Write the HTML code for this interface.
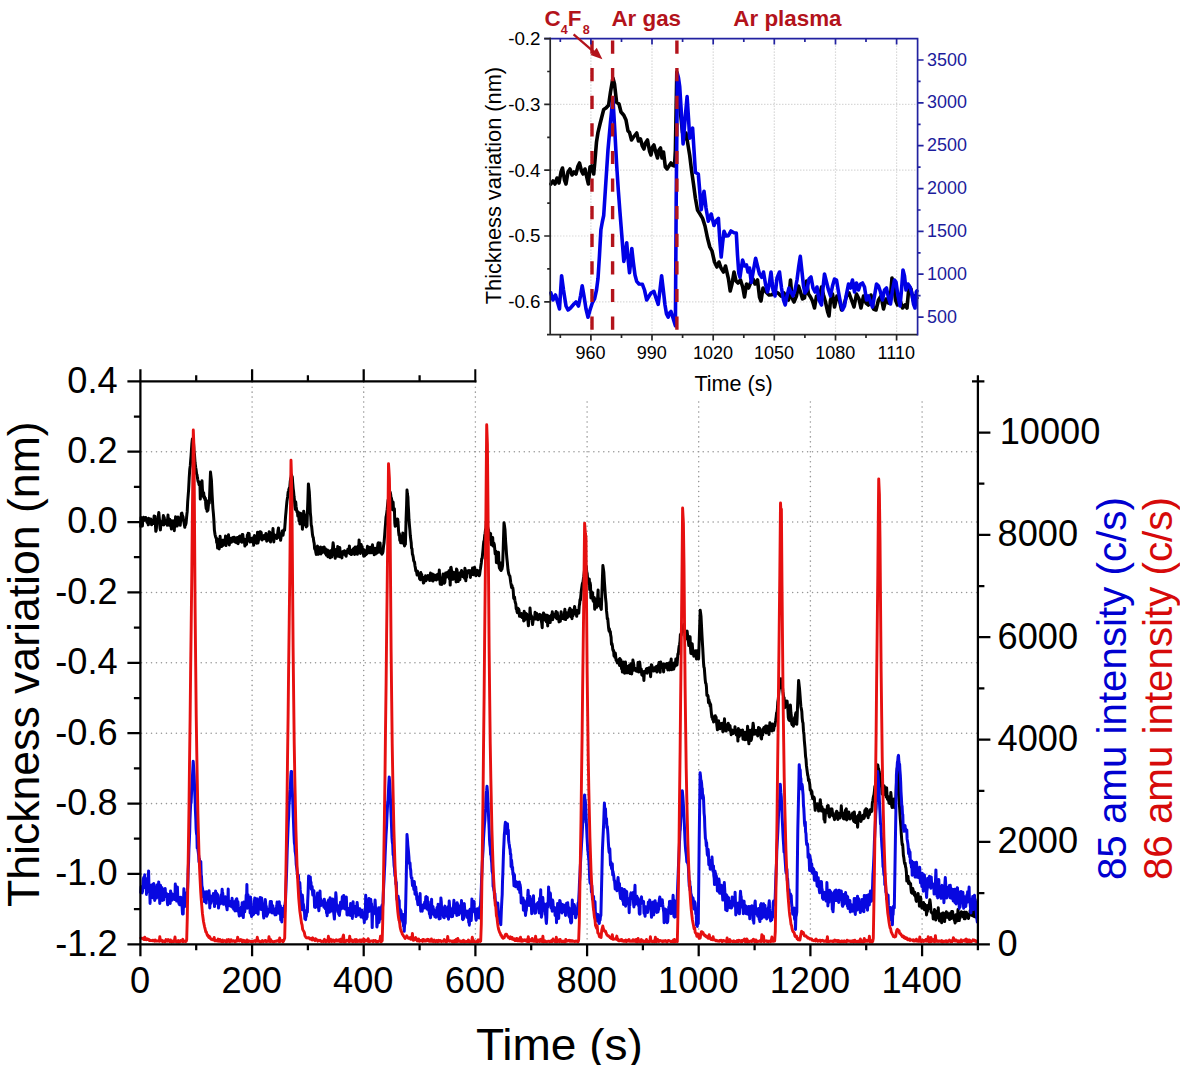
<!DOCTYPE html>
<html lang="en"><head><meta charset="utf-8"><title>Thickness variation and mass-spectrometer intensity vs time</title>
<style>
html,body{margin:0;padding:0;background:#ffffff;}
body{width:1180px;height:1065px;overflow:hidden;position:relative;font-family:"Liberation Sans", sans-serif;}
svg{display:block;}
</style></head>
<body>
<svg width="1180" height="1065" viewBox="0 0 1180 1065" style="position:absolute;left:0;top:0;font-family:'Liberation Sans', sans-serif">
<rect x="0" y="0" width="1180" height="1065" fill="#ffffff"/>
<path d="M252.1 382.2V943.3M363.7 382.2V943.3M475.4 382.2V943.3M587.1 382.2V943.3M698.7 382.2V943.3M810.4 382.2V943.3M922.1 382.2V943.3M141.6 451.7H976.9M141.6 522.0H976.9M141.6 592.4H976.9M141.6 662.8H976.9M141.6 733.2H976.9M141.6 803.6H976.9M141.6 873.9H976.9" stroke="#969696" stroke-width="1.55" stroke-dasharray="0.01 4.96" stroke-linecap="round" fill="none"/>
<path d="M140.7 526.5L141.1 517.6L141.5 522.8L142.0 523.1L142.4 526.0L142.8 519.2L143.2 520.0L143.6 517.2L144.1 520.6L144.5 518.2L144.9 518.4L145.3 519.2L145.7 517.5L146.2 518.6L146.6 520.9L147.0 522.4L147.4 522.6L147.8 522.7L148.3 524.8L148.7 518.3L149.1 523.0L149.5 521.1L149.9 521.5L150.4 523.0L150.8 519.0L151.2 520.0L151.6 524.8L152.0 520.8L152.5 521.3L152.9 521.5L153.3 520.2L153.7 523.4L154.1 516.0L154.6 520.6L155.0 516.2L155.4 524.2L155.8 531.3L156.2 530.4L156.7 524.8L157.1 519.3L157.5 519.7L157.9 521.0L158.3 516.2L158.8 512.5L159.2 517.2L159.6 521.0L160.0 528.0L160.4 529.9L160.9 524.1L161.3 525.4L161.7 521.5L162.1 523.7L162.5 521.0L163.0 519.5L163.4 515.4L163.8 524.9L164.2 517.2L164.6 521.7L165.1 523.6L165.5 521.9L165.9 520.2L166.3 522.6L166.7 522.1L167.2 525.2L167.6 519.9L168.0 515.0L168.4 523.4L168.8 518.6L169.3 525.3L169.7 519.3L170.1 521.7L170.5 523.1L170.9 525.2L171.4 529.0L171.8 520.8L172.2 524.2L172.6 521.3L173.0 522.2L173.5 521.3L173.9 520.8L174.3 530.7L174.7 522.8L175.1 524.2L175.6 516.7L176.0 520.5L176.4 523.0L176.8 526.0L177.2 526.0L177.7 522.9L178.1 516.9L178.5 522.3L178.9 520.5L179.3 520.8L179.8 522.6L180.2 525.3L180.6 521.2L181.0 518.9L181.4 513.3L181.9 513.1L182.3 515.2L182.7 516.1L183.1 517.1L183.5 520.1L184.0 522.7L184.4 525.0L184.8 527.3L185.2 523.6L185.6 525.0L186.1 522.9L186.5 518.4L186.9 514.0L187.2 511.9L187.7 501.5L188.2 495.2L188.6 489.8L189.2 478.0L189.8 468.9L190.3 465.7L190.7 460.0L191.1 455.3L191.5 449.0L191.9 443.3L192.4 439.0L192.8 440.8L193.4 441.2L194.0 451.3L194.5 454.8L195.0 462.3L195.7 467.5L196.1 469.7L196.6 474.0L197.0 474.7L197.4 477.6L197.8 479.8L198.2 481.6L198.7 482.6L199.1 484.6L199.5 483.5L199.9 482.3L200.3 499.1L200.8 489.3L201.2 491.2L201.6 484.8L202.0 480.7L202.4 488.8L202.9 493.6L203.3 496.5L203.7 492.8L204.1 498.0L204.5 496.4L205.0 499.8L205.4 498.3L205.8 505.2L206.2 508.7L206.6 502.5L207.1 511.3L207.5 501.1L207.9 510.4L208.3 506.4L208.7 502.8L209.3 503.1L210.0 485.0L210.5 472.1L210.8 474.9L211.4 479.9L212.1 494.5L212.4 499.9L212.9 508.3L213.4 513.7L213.8 518.8L214.4 530.1L215.0 534.3L215.5 536.4L215.9 537.9L216.3 537.7L216.7 542.6L217.1 540.2L217.6 548.1L218.0 539.5L218.4 540.0L218.8 541.9L219.2 548.9L219.7 543.8L220.1 536.3L220.5 542.4L220.9 540.3L221.3 540.2L221.8 546.5L222.2 541.7L222.6 540.3L223.0 545.5L223.4 540.3L223.9 541.1L224.3 541.0L224.7 541.4L225.1 543.1L225.5 536.1L226.0 545.6L226.4 539.6L226.8 543.0L227.2 538.9L227.6 542.5L228.1 536.3L228.5 534.8L228.9 541.3L229.3 544.9L229.7 541.0L230.2 540.0L230.6 542.2L231.0 538.2L231.4 542.2L231.8 541.0L232.3 538.0L232.7 537.6L233.1 541.3L233.5 539.6L233.9 537.3L234.4 537.3L234.8 538.4L235.2 542.1L235.6 540.1L236.0 540.3L236.5 542.7L236.9 539.0L237.3 537.5L237.7 539.8L238.1 543.7L238.6 541.4L239.0 540.3L239.4 536.5L239.8 536.0L240.2 539.6L240.7 541.4L241.1 537.9L241.5 539.9L241.9 542.2L242.3 534.4L242.8 534.5L243.2 538.9L243.6 538.6L244.0 539.3L244.4 541.1L244.9 546.1L245.3 541.1L245.7 539.9L246.1 544.0L246.5 544.3L247.0 538.8L247.4 535.0L247.8 537.8L248.2 533.2L248.6 538.4L249.1 533.4L249.5 540.1L249.9 542.0L250.3 538.5L250.7 541.1L251.2 538.4L251.6 541.7L252.0 541.7L252.4 540.5L252.8 537.9L253.3 541.8L253.7 545.2L254.1 540.9L254.5 535.6L254.9 541.0L255.4 542.5L255.8 540.2L256.2 541.8L256.6 543.2L257.0 543.1L257.5 532.2L257.9 543.1L258.3 541.3L258.7 539.2L259.1 532.2L259.6 536.1L260.0 536.8L260.4 531.7L260.8 533.7L261.2 532.4L261.7 539.7L262.1 539.9L262.5 538.7L262.9 536.7L263.3 536.4L263.8 535.7L264.2 538.8L264.6 537.3L265.0 536.5L265.4 536.2L265.9 533.5L266.3 534.7L266.7 541.2L267.1 536.8L267.5 538.6L268.0 540.2L268.4 537.4L268.8 536.2L269.2 531.7L269.6 532.1L270.1 535.3L270.5 542.0L270.9 538.5L271.3 533.8L271.7 537.5L272.2 536.7L272.6 533.4L273.0 528.6L273.4 535.2L273.8 541.9L274.3 534.6L274.7 535.1L275.1 535.7L275.5 535.8L275.9 536.5L276.4 536.6L276.8 538.5L277.2 534.7L277.6 534.0L278.0 530.5L278.5 527.9L278.9 535.7L279.3 537.4L279.7 537.9L280.1 534.0L280.6 540.3L281.0 537.7L281.4 533.4L281.8 533.5L282.2 531.1L282.7 532.6L283.1 535.2L283.5 531.6L283.9 529.8L284.6 530.1L285.2 521.8L285.6 516.2L286.0 511.9L286.4 507.0L286.9 501.6L287.3 498.9L287.7 496.5L288.1 492.3L288.5 491.1L289.0 488.9L289.4 487.8L289.8 487.0L290.2 482.0L290.6 479.0L291.1 477.0L291.5 475.0L292.0 476.5L292.3 477.0L292.7 482.9L293.2 488.6L293.6 491.7L294.0 496.3L294.4 499.5L294.8 505.5L295.3 509.4L295.7 501.8L296.1 506.5L296.5 508.9L296.9 511.9L297.4 511.4L297.8 516.1L298.2 512.1L298.6 512.7L299.0 520.9L299.5 516.8L299.9 524.0L300.3 518.3L300.7 513.3L301.1 517.7L301.6 518.7L302.0 518.0L302.4 529.3L302.8 524.6L303.2 518.5L303.7 511.2L304.1 513.9L304.5 514.5L304.9 518.1L305.3 524.9L305.8 523.7L306.2 526.9L306.6 525.0L307.0 526.1L307.4 513.2L307.9 499.9L308.4 483.9L309.3 492.0L310.0 505.1L310.3 512.3L310.8 517.3L311.2 525.0L311.6 526.2L312.1 530.8L312.5 534.8L312.9 536.9L313.3 537.6L313.7 541.2L314.2 543.3L314.6 548.5L315.0 549.6L315.4 548.9L315.8 552.2L316.3 554.4L316.7 552.4L317.1 546.9L317.5 546.0L317.9 550.9L318.4 554.3L318.8 553.1L319.2 551.4L319.6 550.1L320.0 547.6L320.5 547.0L320.9 553.9L321.3 553.0L321.7 552.8L322.1 548.8L322.6 549.2L323.0 547.6L323.4 552.0L323.8 550.1L324.2 546.9L324.7 551.1L325.1 553.3L325.5 548.8L325.9 550.2L326.3 555.2L326.8 553.1L327.2 552.5L327.6 550.1L328.0 556.8L328.4 554.3L328.9 554.1L329.3 553.0L329.7 556.7L330.1 557.8L330.5 550.7L331.0 553.0L331.4 552.3L331.8 556.9L332.2 550.0L332.6 548.4L333.1 542.8L333.5 545.8L333.9 552.2L334.3 554.2L334.7 553.5L335.2 558.3L335.6 550.5L336.0 550.4L336.4 549.3L336.8 551.7L337.3 556.3L337.7 546.5L338.1 547.1L338.5 549.1L338.9 551.4L339.4 556.7L339.8 547.5L340.2 554.0L340.6 553.0L341.0 553.3L341.5 556.0L341.9 557.9L342.3 552.0L342.7 551.6L343.1 552.7L343.6 554.3L344.0 551.8L344.4 550.7L344.8 551.1L345.2 551.2L345.7 555.5L346.1 556.2L346.5 553.0L346.9 553.2L347.3 551.9L347.8 549.3L348.2 552.8L348.6 550.5L349.0 551.9L349.4 545.9L349.9 553.7L350.3 549.7L350.7 552.5L351.1 554.5L351.5 554.5L352.0 551.3L352.4 550.8L352.8 552.2L353.2 549.0L353.6 553.1L354.1 548.1L354.5 554.5L354.9 553.1L355.3 547.0L355.7 548.6L356.2 547.5L356.6 552.6L357.0 546.9L357.4 554.3L357.8 551.6L358.3 546.1L358.7 547.8L359.1 539.9L359.5 545.8L359.9 548.7L360.4 553.4L360.8 546.9L361.2 544.6L361.6 548.8L362.0 546.4L362.5 549.6L362.9 549.9L363.3 552.2L363.7 556.2L364.1 549.7L364.6 555.9L365.0 553.7L365.4 551.8L365.8 554.7L366.2 554.2L366.7 553.9L367.1 549.6L367.5 546.2L367.9 548.9L368.3 547.1L368.8 547.6L369.2 552.8L369.6 548.3L370.0 547.2L370.4 550.3L370.9 549.2L371.3 552.8L371.7 547.7L372.1 549.2L372.5 544.8L373.0 551.6L373.4 552.9L373.8 552.1L374.2 554.8L374.6 552.6L375.1 548.3L375.5 554.1L375.9 548.8L376.3 550.6L376.7 548.7L377.2 553.0L377.6 546.8L378.0 543.4L378.4 542.7L378.8 552.1L379.3 545.8L379.7 545.6L380.1 543.1L380.5 551.5L380.9 552.8L381.4 552.7L381.8 554.2L382.2 553.6L382.6 553.1L383.0 551.6L383.5 546.3L384.0 543.1L384.7 534.7L385.1 529.0L385.6 523.1L386.0 517.0L386.4 515.4L386.8 512.5L387.2 509.2L387.7 504.0L388.1 500.0L388.5 500.1L388.9 497.7L389.3 496.1L389.8 493.4L390.2 492.1L390.6 494.0L391.0 497.6L391.4 497.9L391.9 500.7L392.3 509.6L392.7 506.3L393.1 502.0L393.5 509.0L394.0 511.0L394.4 508.7L394.8 522.9L395.2 526.2L395.6 526.1L396.1 524.7L396.5 523.1L396.9 522.5L397.3 518.9L397.7 519.2L398.2 524.9L398.6 531.6L399.0 535.3L399.4 533.5L399.8 540.5L400.3 538.2L400.7 542.8L401.1 539.6L401.5 535.7L401.9 540.9L402.4 543.0L402.8 533.1L403.2 540.2L403.6 539.7L404.0 541.6L404.5 545.9L404.9 543.5L405.4 544.2L405.7 533.4L406.1 518.8L406.6 505.1L407.0 490.1L407.4 494.1L407.9 496.9L408.2 504.6L408.7 513.0L409.0 520.0L409.5 525.9L409.9 530.2L410.3 535.5L410.8 539.8L411.2 542.7L411.5 548.0L412.0 548.6L412.4 554.1L412.9 555.4L413.3 557.6L413.7 560.7L414.1 561.6L414.5 562.0L415.0 566.0L415.4 567.8L415.8 570.9L416.2 570.4L416.6 571.8L417.1 575.1L417.5 571.3L417.9 573.3L418.3 574.2L418.7 575.2L419.2 575.5L419.6 578.9L420.0 577.6L420.4 579.7L420.8 572.6L421.3 577.8L421.7 574.2L422.1 578.2L422.5 577.9L422.9 579.6L423.4 583.0L423.8 582.7L424.2 580.1L424.6 577.3L425.0 580.2L425.5 575.8L425.9 580.7L426.3 577.5L426.7 579.3L427.1 579.4L427.6 578.9L428.0 575.4L428.4 578.0L428.8 577.2L429.2 576.4L429.7 580.5L430.1 578.1L430.5 573.0L430.9 579.4L431.3 580.3L431.8 575.1L432.2 579.1L432.6 574.1L433.0 581.1L433.4 576.0L433.9 574.9L434.3 574.9L434.7 578.0L435.1 577.1L435.5 579.5L436.0 577.3L436.4 579.9L436.8 575.0L437.2 578.3L437.6 574.3L438.1 578.7L438.5 579.1L438.9 578.8L439.3 570.0L439.7 577.0L440.2 584.2L440.6 579.4L441.0 578.5L441.4 579.8L441.8 584.4L442.3 579.7L442.7 576.9L443.1 574.0L443.5 580.1L443.9 579.8L444.4 583.2L444.8 582.4L445.2 578.6L445.6 573.0L446.0 574.6L446.5 572.8L446.9 576.9L447.3 572.6L447.7 575.7L448.1 576.4L448.6 573.3L449.0 570.8L449.4 578.9L449.8 575.5L450.2 585.1L450.7 567.6L451.1 567.4L451.5 570.5L451.9 574.2L452.3 579.2L452.8 576.2L453.2 579.2L453.6 572.2L454.0 574.1L454.4 573.3L454.9 575.9L455.3 572.4L455.7 575.7L456.1 581.9L456.5 569.0L457.0 569.9L457.4 573.7L457.8 578.0L458.2 581.6L458.6 573.1L459.1 577.6L459.5 574.3L459.9 579.7L460.3 573.7L460.7 572.3L461.2 572.5L461.6 570.4L462.0 572.8L462.4 574.6L462.8 576.7L463.3 576.9L463.7 573.2L464.1 576.3L464.5 578.3L464.9 568.2L465.4 575.0L465.8 580.8L466.2 575.1L466.6 577.3L467.0 571.0L467.5 573.3L467.9 571.0L468.3 571.5L468.7 572.1L469.1 570.6L469.6 571.1L470.0 570.7L470.4 577.4L470.8 572.4L471.2 571.7L471.7 572.5L472.1 574.5L472.5 568.0L472.9 574.1L473.3 574.8L473.8 572.4L474.2 568.7L474.6 567.2L475.0 571.1L475.4 571.5L475.9 575.8L476.3 574.7L476.7 573.2L477.1 570.3L477.5 571.3L478.0 570.8L478.4 574.9L478.8 572.6L479.2 575.7L479.6 574.7L480.1 570.8L480.5 568.5L480.9 565.5L481.3 562.9L481.7 558.9L482.2 558.1L482.6 553.8L483.0 550.1L483.4 545.1L483.8 541.5L484.3 540.2L484.7 535.4L485.1 533.5L485.5 529.6L485.9 529.8L486.4 521.0L486.8 524.3L487.2 525.8L487.6 526.8L488.0 528.8L488.5 530.1L488.9 532.5L489.3 536.3L489.7 534.2L490.1 539.6L490.6 533.5L491.0 542.7L491.4 544.8L491.8 538.7L492.2 541.2L492.7 537.5L493.1 546.1L493.5 544.2L493.9 543.2L494.3 544.4L494.8 549.5L495.2 553.8L495.6 554.0L496.0 551.2L496.4 562.6L496.9 558.4L497.3 559.5L497.7 563.0L498.1 556.9L498.5 552.3L499.0 564.7L499.4 568.2L499.8 564.2L500.2 569.6L500.6 563.0L501.1 570.6L501.5 568.2L501.9 569.2L502.6 565.4L503.2 548.8L503.6 535.7L504.0 522.7L504.4 525.2L505.0 529.8L505.7 542.4L506.0 546.2L506.5 553.9L506.9 558.5L507.4 563.1L508.0 569.8L508.6 573.2L509.0 574.5L509.5 575.4L509.9 576.2L510.3 579.1L510.7 582.3L511.1 584.4L511.6 587.5L512.0 585.5L512.4 588.1L512.8 587.8L513.2 590.5L513.7 598.1L514.1 598.9L514.5 596.9L514.9 600.2L515.3 602.5L515.8 603.9L516.2 609.0L516.6 608.3L517.0 611.5L517.4 612.7L517.9 608.3L518.3 609.1L518.7 609.1L519.1 610.5L519.5 616.3L520.0 613.6L520.4 614.1L520.8 615.7L521.2 616.8L521.6 613.5L522.1 617.6L522.5 615.0L522.9 613.7L523.3 615.5L523.7 621.0L524.2 611.3L524.6 620.2L525.0 614.0L525.4 619.2L525.8 613.3L526.3 618.1L526.7 614.1L527.1 616.3L527.5 618.0L527.9 620.2L528.4 625.8L528.8 621.5L529.2 615.8L529.6 618.7L530.0 608.0L530.5 613.8L530.9 618.6L531.3 615.5L531.7 618.7L532.1 617.8L532.6 624.6L533.0 621.5L533.4 617.7L533.8 617.4L534.2 618.2L534.7 617.1L535.1 612.2L535.5 619.1L535.9 619.0L536.3 615.1L536.8 613.5L537.2 615.2L537.6 617.6L538.0 619.7L538.4 617.8L538.9 616.5L539.3 614.7L539.7 614.4L540.1 619.0L540.5 618.7L541.0 617.6L541.4 621.3L541.8 623.6L542.2 627.7L542.6 614.8L543.1 617.2L543.5 612.9L543.9 615.0L544.3 614.7L544.7 618.8L545.2 620.3L545.6 614.9L546.0 617.4L546.4 621.8L546.8 620.7L547.3 615.2L547.7 626.0L548.1 616.3L548.5 618.6L548.9 616.3L549.4 618.0L549.8 618.2L550.2 622.5L550.6 618.1L551.0 616.2L551.5 614.9L551.9 616.8L552.3 611.8L552.7 619.7L553.1 614.0L553.6 616.5L554.0 617.0L554.4 615.8L554.8 616.7L555.2 614.6L555.7 613.5L556.1 611.5L556.5 618.3L556.9 618.7L557.3 612.4L557.8 617.1L558.2 618.3L558.6 616.4L559.0 621.9L559.4 620.7L559.9 620.0L560.3 621.3L560.7 616.2L561.1 611.8L561.5 614.7L562.0 616.3L562.4 616.8L562.8 618.5L563.2 616.0L563.6 616.3L564.1 618.9L564.5 612.4L564.9 609.3L565.3 617.5L565.7 619.6L566.2 614.4L566.6 612.6L567.0 614.0L567.4 617.5L567.8 616.7L568.3 613.6L568.7 614.8L569.1 610.1L569.5 610.7L569.9 608.3L570.4 616.4L570.8 614.8L571.2 614.9L571.6 610.0L572.0 618.7L572.5 613.9L572.9 615.8L573.3 614.7L573.7 613.5L574.1 610.1L574.6 606.4L575.0 609.2L575.4 612.0L575.8 610.2L576.2 613.2L576.7 616.3L577.1 611.0L577.5 610.6L577.9 611.4L578.3 613.2L578.8 613.1L579.2 606.3L579.6 604.1L580.0 599.7L580.4 600.0L580.9 595.0L581.3 590.8L581.7 587.9L582.1 585.1L582.5 583.1L583.0 582.0L583.4 578.6L583.8 576.3L584.2 572.9L584.6 569.3L585.1 566.9L585.5 564.9L585.9 566.0L586.3 566.6L586.7 571.6L587.2 573.6L587.6 579.2L588.0 580.8L588.4 581.5L588.8 583.9L589.3 579.0L589.7 589.7L590.1 582.7L590.5 585.2L590.9 598.0L591.4 591.6L591.8 593.0L592.2 594.2L592.6 592.8L593.0 600.8L593.5 598.3L593.9 602.1L594.3 597.5L594.7 609.3L595.1 602.9L595.6 605.9L596.0 605.9L596.4 599.1L596.8 607.3L597.2 604.8L597.7 596.9L598.1 590.0L598.5 605.5L598.9 598.5L599.3 603.5L599.8 600.2L600.2 600.7L600.6 607.5L601.3 609.4L601.9 593.5L602.3 581.9L602.9 565.6L603.8 571.9L604.4 581.8L605.0 590.2L605.6 598.5L606.1 603.2L606.5 610.7L607.0 615.2L607.3 618.8L607.7 618.5L608.2 623.6L608.6 628.1L609.0 630.7L609.4 628.8L609.8 632.3L610.3 631.5L610.7 635.4L611.1 637.1L611.5 644.5L611.9 643.3L612.4 645.7L612.8 649.5L613.2 650.8L613.6 650.4L614.0 655.8L614.5 653.8L614.9 657.3L615.3 653.0L615.7 656.5L616.1 660.3L616.6 660.7L617.0 661.9L617.4 662.9L617.8 662.8L618.2 660.4L618.7 660.0L619.1 659.2L619.5 665.5L619.9 658.6L620.3 663.8L620.8 659.7L621.2 665.4L621.6 668.7L622.0 665.9L622.4 672.1L622.9 665.8L623.3 662.1L623.7 666.5L624.1 664.7L624.5 673.3L625.0 671.1L625.4 661.9L625.8 665.5L626.2 668.3L626.6 672.8L627.1 666.3L627.5 669.2L627.9 672.7L628.3 670.7L628.7 671.0L629.2 665.4L629.6 670.9L630.0 673.4L630.4 667.2L630.8 663.7L631.3 665.4L631.7 674.0L632.1 667.9L632.5 669.8L632.9 660.1L633.4 662.9L633.8 664.5L634.2 670.3L634.6 668.2L635.0 668.3L635.5 669.9L635.9 669.6L636.3 671.2L636.7 671.0L637.1 669.2L637.6 671.0L638.0 662.5L638.4 672.0L638.8 669.5L639.2 669.0L639.7 662.1L640.1 665.9L640.5 671.8L640.9 671.4L641.3 669.1L641.8 674.9L642.2 671.1L642.6 674.7L643.0 676.0L643.4 673.4L643.9 680.4L644.3 672.9L644.7 671.3L645.1 671.9L645.5 672.6L646.0 672.2L646.4 669.0L646.8 668.5L647.2 673.2L647.6 669.4L648.1 668.3L648.5 670.8L648.9 671.2L649.3 667.8L649.7 669.1L650.2 672.6L650.6 676.7L651.0 670.5L651.4 664.7L651.8 665.2L652.3 669.2L652.7 667.8L653.1 667.7L653.5 671.1L653.9 670.1L654.4 668.1L654.8 670.6L655.2 668.1L655.6 667.4L656.0 666.6L656.5 666.5L656.9 672.1L657.3 670.0L657.7 667.2L658.1 665.2L658.6 664.9L659.0 662.5L659.4 665.7L659.8 667.6L660.2 672.3L660.7 662.1L661.1 665.1L661.5 667.4L661.9 665.0L662.3 664.8L662.8 665.8L663.2 663.9L663.6 672.0L664.0 666.8L664.4 664.9L664.9 664.1L665.3 666.7L665.7 666.5L666.1 666.1L666.5 667.7L667.0 663.6L667.4 665.6L667.8 669.9L668.2 665.8L668.6 666.8L669.1 663.1L669.5 669.9L669.9 663.7L670.3 666.1L670.7 662.5L671.2 659.0L671.6 669.8L672.0 665.5L672.4 665.4L672.8 663.5L673.3 665.1L673.7 669.2L674.1 667.2L674.5 662.8L674.9 665.5L675.4 666.0L675.8 659.0L676.2 659.9L676.6 662.2L677.0 664.9L677.5 658.8L677.9 653.9L678.3 654.3L678.7 649.5L679.1 646.4L679.6 644.3L680.0 641.3L680.4 634.4L680.8 634.3L681.2 635.2L681.7 629.4L682.1 631.6L682.5 626.7L682.9 627.4L683.3 626.7L683.8 624.5L684.2 627.0L684.6 630.7L685.0 634.9L685.4 639.1L685.9 636.6L686.3 635.9L686.7 631.9L687.1 631.0L687.5 634.7L688.0 639.5L688.4 641.7L688.8 645.6L689.2 636.7L689.6 639.5L690.1 636.7L690.5 648.4L690.9 653.5L691.3 647.2L691.7 653.7L692.2 643.7L692.6 648.6L693.0 651.8L693.4 652.4L693.8 656.2L694.3 650.9L694.7 651.8L695.1 651.5L695.5 652.5L695.9 650.9L696.4 658.9L696.8 657.9L697.2 654.1L697.6 650.5L698.0 658.7L698.6 658.8L699.3 637.9L699.7 625.2L700.2 610.3L700.6 612.9L701.0 616.1L701.4 623.9L702.0 635.7L702.7 647.5L703.1 654.9L703.5 662.5L703.9 667.0L704.3 668.1L704.8 674.6L705.2 679.6L705.6 683.1L706.0 683.4L706.4 686.5L706.9 695.5L707.3 695.2L707.7 695.3L708.1 696.3L708.5 702.7L709.0 699.8L709.4 703.5L709.8 702.5L710.2 706.4L710.6 704.2L711.1 710.3L711.5 714.1L711.9 717.2L712.3 715.8L712.7 719.5L713.2 719.3L713.6 722.1L714.0 719.6L714.4 718.3L714.8 720.9L715.3 715.8L715.7 718.3L716.1 717.2L716.5 721.9L716.9 725.3L717.4 729.8L717.8 723.5L718.2 721.4L718.6 720.8L719.0 724.8L719.5 724.0L719.9 728.7L720.3 728.4L720.7 724.2L721.1 723.5L721.6 727.4L722.0 726.6L722.4 723.3L722.8 731.7L723.2 731.5L723.7 729.7L724.1 725.0L724.5 718.8L724.9 725.5L725.3 729.3L725.8 727.0L726.2 731.1L726.6 725.1L727.0 728.6L727.4 727.8L727.9 727.3L728.3 723.2L728.7 727.1L729.1 729.9L729.5 726.2L730.0 725.6L730.4 729.4L730.8 732.0L731.2 734.7L731.6 733.8L732.1 731.5L732.5 730.1L732.9 733.4L733.3 733.5L733.7 731.5L734.2 731.1L734.6 731.8L735.0 726.7L735.4 732.9L735.8 729.8L736.3 734.9L736.7 731.0L737.1 733.5L737.5 731.1L737.9 741.1L738.4 728.6L738.8 735.4L739.2 736.6L739.6 734.4L740.0 735.0L740.5 730.2L740.9 734.9L741.3 730.9L741.7 731.8L742.1 735.0L742.6 730.1L743.0 739.2L743.4 737.0L743.8 735.9L744.2 739.3L744.7 739.7L745.1 732.2L745.5 733.1L745.9 739.6L746.3 735.0L746.8 734.2L747.2 733.2L747.6 726.2L748.0 734.3L748.4 739.2L748.9 743.8L749.3 738.6L749.7 734.3L750.1 730.3L750.5 733.1L751.0 740.6L751.4 739.5L751.8 736.6L752.2 730.9L752.6 728.8L753.1 723.2L753.5 725.7L753.9 734.3L754.3 731.4L754.7 730.5L755.2 732.9L755.6 730.4L756.0 734.1L756.4 733.5L756.8 731.9L757.3 730.3L757.7 735.9L758.1 731.2L758.5 727.4L758.9 728.4L759.4 728.1L759.8 728.8L760.2 730.4L760.6 733.9L761.0 737.9L761.5 739.0L761.9 734.5L762.3 734.9L762.7 734.8L763.1 728.9L763.6 729.0L764.0 727.5L764.4 729.5L764.8 731.8L765.2 728.1L765.7 725.9L766.1 732.9L766.5 726.0L766.9 730.7L767.3 730.5L767.8 726.3L768.2 732.6L768.6 732.0L769.0 734.5L769.4 729.5L769.9 722.7L770.3 724.9L770.7 726.8L771.1 724.3L771.5 725.5L772.0 730.9L772.4 724.0L772.8 726.7L773.2 729.4L773.6 730.3L774.1 727.0L774.5 724.4L774.9 725.8L775.3 722.8L775.7 720.3L776.2 716.6L776.6 712.7L777.0 712.6L777.4 708.8L777.8 701.9L778.3 699.0L778.7 693.8L779.1 690.1L779.5 688.2L779.9 686.5L780.4 680.8L780.8 678.7L781.2 679.9L781.6 683.2L782.0 687.7L782.5 687.3L782.9 691.7L783.3 694.8L783.7 697.8L784.1 697.6L784.6 707.8L785.0 703.3L785.4 703.4L785.8 701.5L786.2 702.8L786.7 701.0L787.1 701.2L787.5 705.5L787.9 709.8L788.3 717.5L788.8 719.7L789.2 715.5L789.6 720.7L790.0 714.0L790.4 705.1L790.9 712.8L791.3 715.5L791.7 723.6L792.1 724.6L792.5 719.5L793.0 721.9L793.4 726.2L793.8 719.8L794.2 720.9L794.6 717.4L795.1 721.9L795.5 714.6L795.9 712.9L796.3 724.1L796.8 724.2L797.2 716.1L797.6 704.7L798.0 695.2L798.6 680.5L799.5 688.3L800.1 696.1L800.5 701.7L800.9 706.7L801.4 709.1L801.8 711.5L802.2 718.1L802.6 721.7L803.0 722.9L803.5 731.2L803.9 733.5L804.3 740.3L805.0 747.9L805.6 756.8L806.0 759.1L806.4 765.2L807.1 770.7L807.7 775.2L808.1 776.3L808.5 780.6L808.9 779.3L809.3 781.6L809.8 784.7L810.2 790.1L810.6 790.0L811.0 790.0L811.4 793.7L811.9 791.5L812.3 796.6L812.7 798.8L813.1 796.7L813.5 796.8L814.0 797.3L814.4 798.5L814.8 805.6L815.2 810.3L815.6 803.7L816.1 807.0L816.5 806.5L816.9 807.6L817.3 803.8L817.7 805.8L818.2 804.9L818.6 811.1L819.0 807.6L819.4 807.1L819.8 804.3L820.3 799.7L820.7 805.1L821.1 806.5L821.5 811.0L821.9 806.7L822.4 810.1L822.8 811.4L823.2 808.9L823.6 809.8L824.0 819.4L824.5 816.1L824.9 822.1L825.3 814.6L825.7 809.9L826.1 812.6L826.6 809.5L827.0 812.7L827.4 805.9L827.8 809.6L828.2 805.4L828.7 812.0L829.1 816.0L829.5 817.0L829.9 813.2L830.3 812.4L830.8 808.9L831.2 809.1L831.6 814.9L832.0 809.1L832.4 812.3L832.9 815.7L833.3 815.1L833.7 815.7L834.1 818.0L834.5 819.6L835.0 817.8L835.4 816.2L835.8 813.0L836.2 813.1L836.6 811.2L837.1 811.9L837.5 813.2L837.9 819.4L838.3 814.1L838.7 816.1L839.2 813.6L839.6 815.2L840.0 817.9L840.4 813.0L840.8 814.5L841.3 805.8L841.7 811.4L842.1 815.8L842.5 813.2L842.9 813.8L843.4 818.5L843.8 817.2L844.2 818.9L844.6 813.0L845.0 812.4L845.5 810.1L845.9 809.9L846.3 808.8L846.7 819.9L847.1 819.4L847.6 816.2L848.0 812.7L848.4 814.5L848.8 812.1L849.2 814.3L849.7 815.4L850.1 819.0L850.5 816.6L850.9 817.3L851.3 817.6L851.8 817.8L852.2 814.3L852.6 813.1L853.0 816.4L853.4 820.3L853.9 821.4L854.3 811.9L854.7 815.9L855.1 818.6L855.5 822.5L856.0 819.6L856.4 816.8L856.8 818.5L857.2 820.1L857.6 827.2L858.1 819.7L858.5 814.9L858.9 817.4L859.3 818.8L859.7 812.3L860.2 817.1L860.6 819.6L861.0 821.4L861.4 815.9L861.8 818.2L862.3 819.2L862.7 816.1L863.1 815.3L863.5 815.8L863.9 818.4L864.4 817.2L864.8 810.5L865.2 815.5L865.6 809.6L866.0 808.7L866.5 815.3L866.9 809.3L867.3 812.6L867.7 813.1L868.1 817.7L868.6 813.5L869.0 812.6L869.4 814.9L869.8 811.8L870.2 809.8L870.7 809.9L871.1 811.2L871.5 811.7L871.9 810.9L872.3 803.0L872.8 800.7L873.2 797.9L873.6 796.0L874.0 794.6L874.4 791.1L874.9 786.2L875.3 785.8L875.7 783.2L876.1 778.6L876.5 774.2L877.0 769.2L877.4 766.2L877.8 764.9L878.2 768.3L878.6 768.7L879.1 771.4L879.5 773.3L879.9 776.3L880.3 780.4L880.7 786.0L881.2 786.0L881.6 786.6L882.0 794.0L882.4 788.6L882.8 785.4L883.3 792.6L883.7 786.7L884.1 785.8L884.5 794.5L884.9 787.5L885.4 789.0L885.8 792.7L886.2 797.0L886.6 787.7L887.0 794.6L887.5 799.3L887.9 796.2L888.3 799.6L888.7 801.1L889.1 803.1L889.6 803.5L890.0 800.3L890.4 801.8L890.8 792.5L891.2 796.5L891.7 805.8L892.1 807.5L892.5 804.9L892.9 804.8L893.3 800.1L893.8 799.0L894.2 806.6L894.6 807.7L895.0 805.9L895.4 806.3L895.9 796.2L896.3 786.8L896.7 778.3L897.2 768.0L897.5 770.9L898.2 776.0L898.8 790.1L899.5 806.2L900.1 815.9L900.5 821.7L900.9 826.7L901.3 834.0L901.8 840.8L902.2 844.8L902.6 844.2L903.0 849.0L903.4 855.4L903.8 857.4L904.3 861.7L904.7 863.6L905.1 863.0L905.5 866.7L905.9 867.8L906.4 872.3L906.8 881.1L907.2 877.1L907.6 879.1L908.0 876.3L908.5 883.5L908.9 881.2L909.3 882.7L909.7 884.0L910.1 883.2L910.6 883.9L911.0 889.0L911.4 892.4L911.8 893.1L912.2 889.7L912.7 888.5L913.1 890.0L913.5 893.7L913.9 891.4L914.3 895.2L914.8 892.2L915.2 896.4L915.6 896.2L916.0 900.1L916.4 901.4L916.9 898.4L917.3 898.9L917.7 896.1L918.1 893.5L918.5 898.1L919.0 897.1L919.4 906.2L919.8 901.6L920.2 898.0L920.6 897.0L921.1 903.5L921.5 903.5L921.9 908.0L922.3 906.8L922.7 907.1L923.2 906.2L923.6 902.5L924.0 908.7L924.4 909.6L924.8 904.2L925.3 906.7L925.7 908.1L926.1 905.4L926.5 914.9L926.9 911.9L927.4 911.7L927.8 905.5L928.2 906.4L928.6 908.9L929.0 906.0L929.5 902.6L929.9 899.7L930.3 902.6L930.7 907.2L931.1 912.0L931.6 912.7L932.0 913.1L932.4 913.1L932.8 913.1L933.2 919.0L933.7 913.5L934.1 914.0L934.5 909.6L934.9 918.1L935.3 917.5L935.8 920.0L936.2 918.3L936.6 918.3L937.0 911.1L937.4 912.0L937.9 914.7L938.3 907.7L938.7 917.4L939.1 915.1L939.5 920.9L940.0 919.3L940.4 914.2L940.8 914.5L941.2 913.7L941.6 922.8L942.1 919.7L942.5 920.4L942.9 912.9L943.3 913.0L943.7 914.6L944.2 917.7L944.6 921.6L945.0 916.8L945.4 913.7L945.8 913.5L946.3 911.8L946.7 914.8L947.1 917.2L947.5 912.8L947.9 917.2L948.4 917.5L948.8 918.1L949.2 914.7L949.6 919.6L950.0 917.2L950.5 913.0L950.9 913.7L951.3 918.5L951.7 911.4L952.1 916.1L952.6 911.5L953.0 915.6L953.4 915.5L953.8 917.5L954.2 919.8L954.7 920.9L955.1 923.0L955.5 919.8L955.9 914.7L956.3 918.0L956.8 920.3L957.2 920.8L957.6 916.0L958.0 909.5L958.4 913.5L958.9 916.8L959.3 920.6L959.7 914.3L960.1 917.9L960.5 914.8L961.0 915.5L961.4 911.7L961.8 914.4L962.2 914.8L962.6 912.4L963.1 916.9L963.5 912.6L963.9 915.3L964.3 918.7L964.7 912.0L965.2 918.8L965.6 917.6L966.0 915.3L966.4 912.3L966.8 914.2L967.3 913.9L967.7 915.1L968.1 915.7L968.5 918.6L968.9 915.9L969.4 914.7L969.8 915.1L970.2 910.5L970.6 912.4L971.0 913.5L971.5 910.6L971.9 909.0L972.3 915.7L972.7 910.7L973.1 911.1L973.6 909.3L974.0 916.5L974.4 913.1L974.8 910.9L975.2 917.0L975.7 912.8L976.1 913.6L976.5 908.8L976.9 912.5L977.3 912.3" fill="none" stroke="#000000" stroke-width="3.0" stroke-linejoin="round" stroke-linecap="round"/>
<path d="M140.7 892.4L141.1 886.8L141.4 891.5L141.8 889.4L142.1 893.0L142.5 891.4L142.9 887.1L143.2 879.7L143.6 877.8L143.9 877.2L144.3 887.4L144.7 874.7L145.0 887.7L145.4 879.2L145.7 880.9L146.1 880.8L146.5 894.4L146.8 884.0L147.2 885.7L147.5 878.5L147.9 883.9L148.3 878.5L148.6 870.9L149.0 888.5L149.3 892.3L149.7 889.3L150.1 903.4L150.4 886.8L150.8 886.1L151.1 888.7L151.5 885.1L151.9 885.6L152.2 884.9L152.6 897.7L152.9 886.8L153.3 884.1L153.7 883.5L154.0 889.3L154.4 892.1L154.7 900.5L155.1 890.7L155.5 887.4L155.8 889.8L156.2 889.5L156.5 898.1L156.9 885.0L157.3 896.5L157.6 885.5L158.0 887.3L158.3 889.7L158.7 881.9L159.1 892.5L159.4 895.5L159.8 903.4L160.1 899.6L160.5 885.2L160.9 898.9L161.2 897.6L161.6 891.4L161.9 887.6L162.3 900.5L162.7 892.6L163.0 896.2L163.4 894.7L163.7 899.9L164.1 892.1L164.5 889.1L164.8 891.6L165.2 888.5L165.5 894.2L165.9 894.2L166.3 896.5L166.6 894.1L167.0 893.8L167.3 901.6L167.7 904.8L168.1 897.8L168.4 895.2L168.8 896.0L169.1 899.5L169.5 894.2L169.9 895.3L170.2 903.4L170.6 890.9L170.9 894.2L171.3 893.9L171.7 900.3L172.0 897.6L172.4 894.0L172.7 898.6L173.1 898.2L173.5 896.7L173.8 895.6L174.2 895.7L174.5 899.6L174.9 899.1L175.3 884.1L175.6 887.9L176.0 886.8L176.3 899.3L176.7 901.1L177.1 897.1L177.4 886.9L177.8 897.3L178.1 896.7L178.5 899.4L178.9 903.6L179.2 902.7L179.6 904.8L179.9 899.1L180.3 902.4L180.7 897.2L181.0 898.5L181.4 904.2L181.7 904.9L182.1 906.8L182.5 913.9L182.8 906.2L183.2 914.0L183.5 901.0L183.9 888.7L184.3 903.4L184.6 906.7L185.0 902.6L185.3 895.1L185.7 893.6L186.1 897.9L186.4 902.3L186.8 892.7L187.1 892.8L187.5 890.4L187.9 880.9L188.2 870.0L188.6 861.7L188.9 849.7L189.3 841.2L189.7 831.7L190.0 819.3L190.4 809.5L190.7 803.4L191.1 802.8L191.5 793.5L191.8 786.1L192.2 778.6L192.5 775.6L193.2 761.3L193.6 766.6L194.2 775.8L194.7 791.4L195.1 799.6L195.4 810.3L195.8 819.0L196.1 828.6L196.5 833.6L196.9 835.3L197.2 848.1L197.6 844.4L197.9 849.6L198.3 852.6L198.7 855.9L199.0 861.9L199.4 858.7L199.7 861.6L200.1 862.3L200.5 866.0L200.8 861.5L201.2 874.9L201.5 876.5L201.9 885.5L202.3 887.6L202.6 889.1L203.0 896.9L203.3 892.5L203.7 894.9L204.1 891.9L204.4 901.6L204.8 901.4L205.1 892.1L205.5 892.6L205.9 894.0L206.2 903.1L206.6 891.8L206.9 894.5L207.3 892.7L207.7 893.8L208.0 899.1L208.4 894.1L208.7 897.6L209.1 890.8L209.5 900.3L209.8 907.9L210.2 898.1L210.5 895.8L210.9 903.4L211.3 900.0L211.6 901.3L212.0 897.9L212.3 901.0L212.7 897.3L213.1 900.9L213.4 893.5L213.8 901.6L214.1 898.3L214.5 906.6L214.9 894.8L215.2 899.4L215.6 890.9L215.9 895.5L216.3 903.2L216.7 893.2L217.0 900.2L217.4 901.8L217.7 894.6L218.1 900.5L218.5 908.1L218.8 904.8L219.2 900.4L219.5 901.3L219.9 903.2L220.3 903.2L220.6 903.7L221.0 896.0L221.3 894.8L221.7 897.5L222.1 889.2L222.4 891.5L222.8 893.5L223.1 901.5L223.5 904.3L223.9 897.3L224.2 897.8L224.6 898.8L224.9 903.8L225.3 896.8L225.7 897.8L226.0 903.7L226.4 906.1L226.7 906.8L227.1 909.8L227.5 903.4L227.8 902.1L228.2 889.0L228.5 905.2L228.9 905.4L229.3 901.0L229.6 901.8L230.0 903.1L230.3 903.5L230.7 906.3L231.1 903.3L231.4 904.1L231.8 904.1L232.1 898.2L232.5 907.4L232.9 907.3L233.2 905.3L233.6 909.2L233.9 905.0L234.3 901.7L234.7 906.3L235.0 911.0L235.4 902.2L235.7 903.7L236.1 899.6L236.5 900.6L236.8 898.8L237.2 905.7L237.5 911.1L237.9 901.7L238.3 906.7L238.6 908.5L239.0 914.2L239.3 916.0L239.7 910.1L240.1 913.3L240.4 908.0L240.8 908.4L241.1 907.4L241.5 915.3L241.9 907.0L242.2 902.7L242.6 909.0L242.9 911.5L243.3 917.6L243.7 909.6L244.0 902.1L244.4 909.7L244.7 911.8L245.1 907.8L245.5 905.5L245.8 904.5L246.2 895.0L246.5 904.0L246.9 884.5L247.3 908.3L247.6 900.7L248.0 894.7L248.3 901.5L248.7 904.5L249.1 902.1L249.4 905.0L249.8 900.8L250.1 913.0L250.5 896.9L250.9 906.5L251.2 914.1L251.6 916.5L251.9 909.5L252.3 907.7L252.7 912.0L253.0 914.8L253.4 909.8L253.7 914.3L254.1 900.8L254.5 901.2L254.8 898.0L255.2 901.0L255.5 908.0L255.9 910.5L256.3 912.6L256.6 906.8L257.0 898.8L257.3 904.2L257.7 899.5L258.1 914.2L258.4 906.3L258.8 902.5L259.1 909.2L259.5 905.7L259.9 900.9L260.2 897.5L260.6 904.4L260.9 906.9L261.3 909.4L261.7 898.1L262.0 902.9L262.4 909.6L262.7 908.7L263.1 908.8L263.5 916.0L263.8 918.0L264.2 906.2L264.5 910.2L264.9 904.3L265.3 899.6L265.6 902.8L266.0 907.6L266.3 906.2L266.7 916.3L267.1 913.5L267.4 914.7L267.8 913.0L268.1 909.8L268.5 910.6L268.9 909.1L269.2 909.7L269.6 912.1L269.9 905.6L270.3 901.5L270.7 907.9L271.0 904.5L271.4 901.4L271.7 909.6L272.1 912.9L272.5 907.2L272.8 905.8L273.2 910.8L273.5 910.0L273.9 910.2L274.3 909.0L274.6 913.3L275.0 914.9L275.3 909.6L275.7 909.9L276.1 914.7L276.4 908.3L276.8 905.8L277.1 902.1L277.5 907.2L277.9 906.0L278.2 911.9L278.6 912.2L278.9 913.3L279.3 901.7L279.7 909.8L280.0 909.5L280.4 905.8L280.7 919.9L281.1 908.3L281.5 917.8L281.8 922.0L282.2 914.3L282.5 908.6L282.9 913.1L283.3 916.6L283.6 914.4L284.0 916.6L284.3 906.0L284.7 911.6L285.1 903.8L285.5 900.2L286.1 884.1L286.5 874.7L286.9 861.4L287.2 850.4L287.6 840.3L288.0 829.5L288.3 822.0L288.7 815.5L289.0 805.1L289.4 800.4L289.7 792.6L290.1 789.2L290.5 783.6L290.8 776.1L291.2 771.4L291.5 771.4L292.2 787.6L292.6 797.3L293.0 808.2L293.3 817.3L294.0 835.3L294.4 843.1L294.8 845.3L295.1 851.3L295.5 853.5L295.9 857.1L296.2 864.2L296.6 867.0L296.9 869.4L297.3 872.7L297.7 877.4L298.0 877.4L298.4 875.0L298.7 880.2L299.1 883.8L299.5 885.8L299.8 882.6L300.2 889.4L300.5 892.9L300.9 899.7L301.3 900.6L301.6 909.6L302.0 897.2L302.3 894.9L302.7 898.9L303.1 908.0L303.4 904.2L303.8 906.9L304.1 911.1L304.5 912.4L304.9 918.8L305.2 911.2L305.6 919.7L305.9 913.4L306.3 916.5L306.7 910.6L307.0 912.3L307.4 912.3L307.7 900.9L308.1 892.8L308.6 876.0L309.2 879.3L309.5 876.7L309.9 883.6L310.3 876.9L310.6 883.2L311.0 882.2L311.3 889.3L311.7 886.3L312.1 886.4L312.4 890.4L312.8 895.0L313.1 894.2L313.5 892.6L313.9 890.8L314.2 897.4L314.6 907.2L314.9 900.6L315.3 907.4L315.7 901.9L316.0 906.9L316.4 899.2L316.7 905.1L317.1 897.6L317.5 893.1L317.8 900.7L318.2 904.6L318.5 907.7L318.9 910.7L319.3 905.2L319.6 895.8L320.0 891.0L320.3 899.2L320.7 898.5L321.1 905.4L321.4 900.6L321.8 901.1L322.1 905.0L322.5 903.9L322.9 904.4L323.2 901.9L323.6 900.8L323.9 907.2L324.3 899.3L324.7 902.4L325.0 902.7L325.4 908.8L325.7 906.8L326.1 904.0L326.5 913.0L326.8 912.1L327.2 915.8L327.5 906.6L327.9 901.5L328.3 904.6L328.6 899.9L329.0 904.3L329.3 912.3L329.7 906.8L330.1 897.8L330.4 905.5L330.8 903.3L331.1 911.2L331.5 910.4L331.9 904.2L332.2 906.2L332.6 898.9L332.9 900.3L333.3 905.6L333.7 912.8L334.0 915.2L334.4 919.1L334.7 911.4L335.1 910.4L335.5 902.1L335.8 892.8L336.2 897.2L336.5 908.9L336.9 904.6L337.3 905.0L337.6 909.4L338.0 912.3L338.3 906.4L338.7 914.2L339.1 912.6L339.4 915.4L339.8 911.3L340.1 910.7L340.5 902.2L340.9 908.6L341.2 902.7L341.6 908.6L341.9 906.9L342.3 896.8L342.7 899.4L343.0 896.5L343.4 907.9L343.7 895.5L344.1 900.2L344.5 899.7L344.8 909.0L345.2 906.9L345.5 904.6L345.9 905.5L346.3 896.9L346.6 904.2L347.0 914.7L347.3 914.9L347.7 908.7L348.1 912.7L348.4 908.6L348.8 910.3L349.1 914.9L349.5 910.0L349.9 915.0L350.2 910.4L350.6 903.5L350.9 915.6L351.3 904.8L351.7 905.8L352.0 905.4L352.4 918.4L352.7 906.1L353.1 901.7L353.5 910.4L353.8 913.0L354.2 911.0L354.5 906.2L354.9 909.2L355.3 910.4L355.6 907.6L356.0 916.6L356.3 912.0L356.7 909.8L357.1 902.5L357.4 905.0L357.8 913.0L358.1 915.1L358.5 913.1L358.9 908.8L359.2 909.5L359.6 910.2L359.9 908.8L360.3 912.7L360.7 915.0L361.0 917.0L361.4 912.3L361.7 916.8L362.1 910.3L362.5 912.6L362.8 915.3L363.2 913.1L363.5 918.4L363.9 914.1L364.3 922.6L364.6 917.1L365.0 913.1L365.3 914.7L365.7 895.2L366.1 904.7L366.4 918.9L366.8 908.3L367.1 917.2L367.5 901.2L367.9 906.0L368.2 901.3L368.6 911.8L368.9 898.6L369.3 906.3L369.7 904.4L370.0 910.9L370.4 903.2L370.7 899.2L371.1 904.2L371.5 903.7L371.8 910.9L372.2 927.6L372.5 916.1L372.9 914.5L373.3 909.5L373.6 909.6L374.0 907.6L374.3 913.4L374.7 907.2L375.1 900.0L375.4 905.7L375.8 912.5L376.1 908.8L376.5 913.5L376.9 927.0L377.2 925.1L377.6 917.0L377.9 917.7L378.3 913.1L378.7 907.7L379.0 922.4L379.4 919.3L379.7 919.4L380.1 919.3L380.5 907.5L380.8 916.9L381.2 918.0L381.5 918.4L381.9 905.5L382.3 911.0L382.6 906.0L383.0 902.4L383.3 893.5L383.7 885.7L384.1 878.3L384.4 870.9L384.8 864.4L385.1 855.9L385.5 846.6L386.0 835.7L386.6 826.2L386.9 818.2L387.3 810.1L387.7 801.9L388.0 800.6L388.4 792.9L388.7 785.8L389.2 777.0L389.8 783.4L390.2 791.7L390.5 799.7L390.9 811.1L391.3 819.9L391.6 828.1L392.0 837.9L392.3 841.9L392.7 844.3L393.1 855.0L393.4 853.8L393.8 860.4L394.1 865.8L394.5 868.4L394.9 875.2L395.2 876.5L395.6 877.2L395.9 884.2L396.3 882.2L396.7 895.0L397.0 899.6L397.4 897.8L397.7 900.8L398.1 896.2L398.5 898.9L398.8 899.9L399.2 900.5L399.5 915.7L399.9 922.5L400.3 909.4L400.6 916.1L401.0 910.8L401.3 913.4L401.7 920.0L402.1 919.4L402.4 915.0L402.8 914.3L403.1 919.1L403.5 926.1L403.9 925.7L404.2 931.3L404.6 925.1L405.2 923.1L405.7 903.7L406.2 880.2L407.0 834.6L407.5 840.2L407.8 844.8L408.2 848.7L408.5 852.0L408.9 856.7L409.3 863.5L409.6 862.9L410.0 862.9L410.3 868.1L410.7 870.1L411.1 876.2L411.4 878.1L411.8 877.5L412.1 880.8L412.5 885.7L412.9 883.9L413.2 881.2L413.6 887.1L413.9 889.5L414.3 881.6L414.7 886.9L415.0 894.3L415.4 893.0L415.7 887.0L416.1 890.9L416.5 893.8L416.8 899.4L417.2 898.3L417.5 901.0L417.9 904.7L418.3 899.0L418.6 896.9L419.0 899.0L419.3 898.8L419.7 901.6L420.1 893.6L420.4 904.6L420.8 911.2L421.1 911.1L421.5 907.8L421.9 910.9L422.2 911.1L422.6 907.2L422.9 905.0L423.3 906.8L423.7 906.4L424.0 908.0L424.4 907.5L424.7 902.2L425.1 906.3L425.5 901.8L425.8 896.8L426.2 896.6L426.5 906.9L426.9 909.0L427.3 897.2L427.6 904.4L428.0 901.5L428.3 901.8L428.7 910.6L429.1 908.1L429.4 914.0L429.8 910.5L430.1 915.7L430.5 917.8L430.9 914.9L431.2 911.0L431.6 899.3L431.9 913.1L432.3 906.6L432.7 913.7L433.0 906.6L433.4 912.7L433.7 909.3L434.1 914.8L434.5 914.1L434.8 916.6L435.2 913.5L435.5 913.0L435.9 917.3L436.3 916.5L436.6 910.8L437.0 907.7L437.3 907.2L437.7 915.2L438.1 904.2L438.4 910.5L438.8 911.0L439.1 919.0L439.5 918.2L439.9 912.4L440.2 918.6L440.6 908.1L440.9 897.9L441.3 901.6L441.7 911.5L442.0 914.8L442.4 909.6L442.7 914.6L443.1 909.9L443.5 917.2L443.8 916.5L444.2 917.8L444.5 907.3L444.9 906.1L445.3 908.2L445.6 908.6L446.0 908.2L446.3 910.6L446.7 911.9L447.1 916.4L447.4 913.4L447.8 914.2L448.1 906.8L448.5 919.2L448.9 912.1L449.2 901.1L449.6 906.3L449.9 916.1L450.3 908.0L450.7 911.9L451.0 908.8L451.4 916.8L451.7 914.1L452.1 913.1L452.5 916.5L452.8 914.6L453.2 911.6L453.5 906.2L453.9 900.3L454.3 907.8L454.6 903.7L455.0 907.9L455.3 905.9L455.7 913.1L456.1 912.5L456.4 906.1L456.8 915.5L457.1 902.7L457.5 907.8L457.9 904.2L458.2 911.4L458.6 910.1L458.9 914.8L459.3 906.1L459.7 906.8L460.0 909.1L460.4 908.8L460.7 906.9L461.1 913.0L461.5 900.5L461.8 908.1L462.2 903.2L462.5 919.1L462.9 919.6L463.3 919.1L463.6 918.1L464.0 904.0L464.3 903.6L464.7 909.4L465.1 911.2L465.4 910.6L465.8 915.0L466.1 914.1L466.5 913.4L466.9 917.3L467.2 911.3L467.6 915.8L467.9 915.9L468.3 910.9L468.7 922.4L469.0 919.8L469.4 925.2L469.7 912.7L470.1 909.3L470.5 914.1L470.8 911.7L471.2 920.6L471.5 915.7L471.9 898.9L472.3 910.0L472.6 910.3L473.0 908.0L473.3 906.0L473.7 908.3L474.1 901.4L474.4 912.0L474.8 911.6L475.1 911.7L475.5 914.7L475.9 918.9L476.2 920.2L476.6 916.0L476.9 909.6L477.3 908.7L477.7 909.1L478.0 914.9L478.4 915.5L478.7 911.6L479.1 918.0L479.5 914.3L479.8 907.0L480.2 907.2L480.5 905.2L480.9 897.1L481.3 888.0L481.6 878.6L482.0 870.5L482.3 862.7L482.7 855.6L483.1 849.3L483.5 839.2L484.1 829.8L484.5 824.0L484.9 820.2L485.2 813.0L485.6 808.9L485.9 798.8L486.3 792.6L486.7 790.4L487.0 786.3L487.4 790.8L487.8 798.2L488.1 803.6L488.5 815.1L488.8 821.8L489.2 830.1L489.5 839.3L489.9 844.8L490.3 847.6L490.6 854.7L491.0 852.2L491.3 858.9L491.7 862.8L492.1 871.6L492.4 872.0L492.8 874.5L493.1 886.4L493.5 887.1L493.9 890.5L494.2 890.9L494.6 897.9L494.9 893.4L495.3 900.7L495.7 902.0L496.0 904.7L496.4 904.8L496.7 904.8L497.1 905.8L497.5 904.5L497.8 903.0L498.2 909.7L498.5 914.9L498.9 913.1L499.3 914.6L499.6 921.6L500.0 918.1L500.3 922.6L500.8 924.6L501.4 909.3L501.8 901.3L502.2 894.5L502.5 881.8L502.9 872.2L503.2 862.0L503.6 849.9L503.9 844.1L504.3 834.6L504.7 830.8L505.0 825.7L505.4 822.2L505.7 824.5L506.1 828.0L506.5 829.1L506.8 824.3L507.2 833.7L507.5 823.7L507.9 833.5L508.3 830.0L508.6 840.0L509.0 843.3L509.3 844.7L509.7 848.0L510.1 849.4L510.4 854.3L510.8 854.3L511.1 866.6L511.5 859.9L511.9 864.0L512.2 869.4L512.6 867.3L512.9 874.5L513.3 872.8L513.7 880.2L514.0 885.8L514.4 874.6L514.7 881.2L515.1 882.8L515.5 886.7L515.8 881.6L516.2 884.4L516.5 884.9L516.9 883.8L517.3 886.7L517.6 882.3L518.0 888.7L518.3 887.6L518.7 889.3L519.1 888.0L519.4 882.0L519.8 892.6L520.1 884.6L520.5 887.6L520.9 894.3L521.2 903.0L521.6 901.5L521.9 902.0L522.3 903.1L522.7 901.1L523.0 898.0L523.4 910.3L523.7 902.6L524.1 900.5L524.5 901.9L524.8 908.9L525.2 911.5L525.5 915.4L525.9 911.2L526.3 910.5L526.6 906.6L527.0 904.6L527.3 901.3L527.7 896.7L528.1 890.2L528.4 895.7L528.8 902.7L529.1 905.4L529.5 897.3L529.9 896.3L530.2 898.3L530.6 902.6L530.9 899.1L531.3 904.8L531.7 913.8L532.0 907.0L532.4 902.6L532.7 901.2L533.1 902.1L533.5 895.7L533.8 905.1L534.2 906.7L534.5 906.3L534.9 913.3L535.3 907.1L535.6 912.9L536.0 909.1L536.3 905.6L536.7 904.0L537.1 904.3L537.4 903.4L537.8 904.4L538.1 902.4L538.5 904.8L538.9 905.7L539.2 913.0L539.6 898.5L539.9 904.9L540.3 899.9L540.7 889.8L541.0 902.0L541.4 917.2L541.7 915.8L542.1 909.9L542.5 906.6L542.8 897.6L543.2 903.1L543.5 910.2L543.9 906.5L544.3 904.3L544.6 903.9L545.0 910.2L545.3 914.3L545.7 914.9L546.1 921.1L546.4 923.4L546.8 917.3L547.1 907.4L547.5 903.2L547.9 907.0L548.2 901.0L548.6 886.9L548.9 893.5L549.3 901.0L549.7 902.2L550.0 892.7L550.4 893.6L550.7 899.8L551.1 908.1L551.5 906.6L551.8 902.6L552.2 911.2L552.5 900.0L552.9 901.3L553.3 907.9L553.6 908.0L554.0 909.9L554.3 907.2L554.7 908.1L555.1 915.4L555.4 914.3L555.8 914.1L556.1 908.3L556.5 922.7L556.9 911.6L557.2 913.8L557.6 903.6L557.9 911.4L558.3 910.0L558.7 918.5L559.0 908.0L559.4 910.4L559.7 900.5L560.1 901.0L560.5 909.8L560.8 903.2L561.2 911.2L561.5 904.6L561.9 912.9L562.3 910.8L562.6 904.4L563.0 909.8L563.3 911.5L563.7 904.9L564.1 908.8L564.4 908.1L564.8 908.7L565.1 909.9L565.5 915.4L565.9 905.6L566.2 908.7L566.6 903.3L566.9 904.8L567.3 903.6L567.7 902.7L568.0 906.4L568.4 908.5L568.7 915.8L569.1 908.0L569.5 917.3L569.8 915.3L570.2 913.1L570.5 921.5L570.9 922.9L571.3 922.9L571.6 922.0L572.0 909.0L572.3 900.1L572.7 910.1L573.1 913.5L573.4 913.2L573.8 907.2L574.1 904.5L574.5 905.8L574.9 914.3L575.2 911.0L575.6 917.8L575.9 917.4L576.3 915.0L576.7 913.9L577.0 910.8L577.4 909.7L577.7 906.6L578.1 903.0L578.5 904.4L578.8 898.1L579.2 890.7L579.5 881.8L579.9 875.8L580.3 866.9L580.6 861.0L581.0 854.2L581.5 844.8L582.1 835.6L582.4 829.1L582.8 821.8L583.1 822.7L583.5 814.9L583.9 803.9L584.2 797.9L584.6 794.9L584.9 798.9L585.3 800.7L585.7 805.7L586.0 812.4L586.4 822.5L586.7 829.6L587.1 838.3L587.5 845.2L587.8 850.4L588.2 853.1L588.5 856.9L588.9 860.3L589.3 867.6L589.6 876.6L590.0 882.9L590.3 880.0L590.7 884.1L591.1 882.9L591.4 891.9L591.8 885.6L592.1 892.8L592.5 899.2L592.9 896.3L593.2 896.1L593.6 896.7L593.9 909.6L594.3 901.4L594.7 910.2L595.0 901.6L595.4 913.1L595.7 912.8L596.1 915.7L596.5 916.9L596.8 917.1L597.2 920.9L597.5 919.8L597.9 914.6L598.3 916.0L598.6 917.6L599.0 923.4L599.3 923.2L599.7 918.6L600.1 920.0L600.4 916.8L600.9 915.3L601.5 889.6L601.9 872.2L602.4 850.4L602.9 839.2L603.3 831.2L603.7 822.9L604.0 813.6L604.4 803.0L604.7 808.8L605.1 809.1L605.5 808.9L605.8 818.3L606.2 822.7L606.5 818.5L606.9 827.8L607.3 826.4L607.6 829.7L608.0 835.2L608.3 841.4L608.7 847.5L609.1 852.0L609.4 852.9L609.8 848.8L610.1 856.1L610.5 865.1L610.9 862.0L611.2 865.6L611.6 868.5L611.9 869.4L612.3 863.8L612.7 875.0L613.0 871.6L613.4 874.2L613.7 875.2L614.1 880.4L614.5 880.4L614.8 883.6L615.2 889.1L615.5 886.0L615.9 889.3L616.3 886.0L616.6 884.0L617.0 890.8L617.3 883.1L617.7 880.5L618.1 877.5L618.4 882.0L618.8 883.6L619.1 883.5L619.5 883.8L619.9 893.2L620.2 894.6L620.6 898.4L620.9 895.8L621.3 889.1L621.7 890.6L622.0 888.4L622.4 891.6L622.7 900.7L623.1 895.2L623.5 904.5L623.8 893.7L624.2 891.5L624.5 889.5L624.9 895.4L625.3 890.5L625.6 906.2L626.0 901.2L626.3 902.5L626.7 891.6L627.1 898.1L627.4 897.8L627.8 898.8L628.1 902.2L628.5 903.8L628.9 905.5L629.2 912.8L629.6 898.5L629.9 905.1L630.3 899.4L630.7 893.8L631.0 892.9L631.4 895.9L631.7 898.4L632.1 894.6L632.5 895.8L632.8 894.0L633.2 892.6L633.5 902.9L633.9 906.9L634.3 896.4L634.6 893.9L635.0 885.3L635.3 899.0L635.7 904.2L636.1 899.8L636.4 897.3L636.8 896.2L637.1 902.7L637.5 897.6L637.9 902.0L638.2 899.2L638.6 905.9L638.9 902.2L639.3 913.5L639.7 914.2L640.0 914.1L640.4 899.7L640.7 903.8L641.1 898.0L641.5 896.9L641.8 901.0L642.2 901.1L642.5 902.6L642.9 901.1L643.3 903.5L643.6 901.6L644.0 913.3L644.3 910.2L644.7 913.9L645.1 916.3L645.4 909.9L645.8 906.7L646.1 911.8L646.5 907.8L646.9 910.5L647.2 908.2L647.6 912.4L647.9 909.5L648.3 902.2L648.7 903.6L649.0 901.8L649.4 905.0L649.7 900.0L650.1 904.5L650.5 901.8L650.8 907.5L651.2 912.8L651.5 917.3L651.9 911.0L652.3 911.2L652.6 905.8L653.0 908.2L653.3 902.0L653.7 915.0L654.1 907.2L654.4 909.5L654.8 906.3L655.1 900.7L655.5 903.7L655.9 907.5L656.2 904.8L656.6 911.0L656.9 912.4L657.3 907.9L657.7 903.5L658.0 911.9L658.4 906.5L658.7 909.6L659.1 901.4L659.5 898.7L659.8 897.0L660.2 899.6L660.5 905.6L660.9 903.4L661.3 902.9L661.6 901.9L662.0 905.0L662.3 899.8L662.7 904.4L663.1 907.9L663.4 909.4L663.8 912.9L664.1 922.7L664.5 910.7L664.9 916.8L665.2 910.9L665.6 909.1L665.9 912.2L666.3 917.0L666.7 921.6L667.0 922.7L667.4 922.2L667.7 921.7L668.1 914.4L668.5 911.8L668.8 907.0L669.2 909.4L669.5 901.4L669.9 908.3L670.3 901.3L670.6 912.1L671.0 913.6L671.3 902.7L671.7 903.8L672.1 910.1L672.4 910.8L672.8 900.8L673.1 895.3L673.5 905.3L673.9 916.4L674.2 904.4L674.6 917.3L674.9 900.9L675.3 911.4L675.7 913.8L676.0 916.6L676.4 906.6L677.0 903.3L677.5 891.3L677.8 882.9L678.2 873.0L678.5 864.9L678.9 856.6L679.5 842.3L680.0 831.4L680.3 829.5L680.7 820.5L681.1 814.0L681.4 807.4L681.8 799.2L682.3 790.7L682.9 797.2L683.3 803.3L683.9 814.4L684.3 823.2L684.7 832.6L685.0 839.9L685.4 846.7L685.7 850.5L686.1 853.6L686.5 857.1L686.8 861.8L687.2 860.9L687.5 863.0L687.9 863.4L688.3 866.0L688.6 870.9L689.0 881.4L689.3 886.4L689.7 881.0L690.1 890.3L690.4 886.6L690.8 893.5L691.1 894.0L691.5 895.9L691.9 900.1L692.2 902.6L692.6 901.9L692.9 897.8L693.3 899.9L693.7 909.0L694.0 908.9L694.4 903.7L694.7 901.8L695.1 903.2L695.5 908.2L695.8 913.8L696.2 909.9L696.5 925.1L696.9 918.2L697.3 926.4L697.6 920.7L698.0 922.5L698.3 923.4L698.7 886.0L699.2 840.0L699.8 796.5L700.1 772.8L700.5 775.9L700.9 781.7L701.2 780.4L701.6 783.4L701.9 787.8L702.3 788.7L702.7 798.5L703.0 795.1L703.5 797.8L704.1 813.3L704.5 816.8L704.8 826.7L705.4 838.4L705.9 840.1L706.3 845.9L706.6 842.6L707.0 849.8L707.3 854.5L707.7 855.6L708.1 849.2L708.4 852.6L708.8 864.8L709.1 863.8L709.5 862.4L709.9 863.3L710.2 869.2L710.6 867.1L710.9 860.3L711.3 865.8L711.7 868.9L712.0 857.1L712.4 863.8L712.7 867.0L713.1 871.6L713.5 865.9L713.8 875.5L714.2 878.2L714.5 884.6L714.9 870.9L715.3 872.9L715.6 873.3L716.0 879.4L716.3 875.7L716.7 878.9L717.1 882.5L717.4 891.0L717.8 889.8L718.1 891.2L718.5 886.6L718.9 879.1L719.2 881.3L719.6 893.2L719.9 892.6L720.3 893.3L720.7 889.5L721.0 888.3L721.4 885.2L721.7 892.5L722.1 893.3L722.5 895.5L722.8 900.1L723.2 899.2L723.5 892.3L723.9 894.5L724.3 882.5L724.6 887.5L725.0 894.2L725.3 896.2L725.7 909.9L726.1 894.5L726.4 896.6L726.8 895.4L727.1 910.7L727.5 906.6L727.9 899.5L728.2 897.3L728.6 897.9L728.9 906.6L729.3 902.9L729.7 901.2L730.0 907.8L730.4 901.4L730.7 905.0L731.1 903.7L731.5 908.0L731.8 903.3L732.2 896.9L732.5 902.7L732.9 899.4L733.3 902.9L733.6 899.7L734.0 903.0L734.3 901.1L734.7 906.3L735.1 892.2L735.4 900.5L735.8 914.9L736.1 913.5L736.5 910.9L736.9 910.5L737.2 908.1L737.6 906.5L737.9 906.2L738.3 902.9L738.7 912.6L739.0 909.3L739.4 913.8L739.7 909.0L740.1 897.7L740.5 891.2L740.8 895.6L741.2 896.7L741.5 906.9L741.9 906.5L742.3 900.6L742.6 907.1L743.0 905.4L743.3 913.8L743.7 903.0L744.1 901.3L744.4 909.9L744.8 913.0L745.1 911.1L745.5 909.4L745.9 905.9L746.2 913.8L746.6 907.0L746.9 910.8L747.3 909.6L747.7 909.2L748.0 907.6L748.4 914.4L748.7 906.6L749.1 911.3L749.5 914.0L749.8 918.8L750.2 906.4L750.5 912.9L750.9 911.0L751.3 909.9L751.6 913.1L752.0 905.8L752.3 913.3L752.7 908.7L753.1 920.4L753.4 914.7L753.8 923.3L754.1 913.4L754.5 910.0L754.9 902.9L755.2 901.0L755.6 908.7L755.9 910.7L756.3 913.8L756.7 913.4L757.0 914.1L757.4 913.5L757.7 916.2L758.1 915.8L758.5 908.5L758.8 912.6L759.2 919.5L759.5 916.9L759.9 921.6L760.3 909.8L760.6 904.7L761.0 905.2L761.3 903.6L761.7 918.5L762.1 911.5L762.4 916.6L762.8 914.0L763.1 910.6L763.5 903.7L763.9 907.3L764.2 917.1L764.6 913.5L764.9 905.2L765.3 912.5L765.7 914.9L766.0 916.7L766.4 911.9L766.7 918.9L767.1 910.0L767.5 917.4L767.8 910.2L768.2 907.7L768.5 912.2L768.9 904.1L769.3 900.7L769.6 908.9L770.0 912.2L770.3 918.8L770.7 920.9L771.1 918.9L771.4 915.3L771.8 919.8L772.1 915.4L772.5 917.5L772.9 910.9L773.2 902.8L773.6 901.0L773.9 902.4L774.3 901.8L774.7 904.7L775.0 902.4L775.4 891.5L775.7 881.5L776.1 871.1L776.5 862.7L776.8 851.3L777.2 843.2L777.5 838.1L777.9 830.4L778.3 820.3L778.6 812.4L779.0 807.9L779.3 802.5L779.7 799.0L780.3 784.3L780.8 792.2L781.3 796.8L781.9 810.4L782.2 818.0L782.6 826.3L783.0 834.8L783.3 840.1L783.7 846.0L784.0 852.1L784.4 851.6L784.7 853.1L785.1 859.6L785.5 865.4L785.8 870.6L786.2 873.3L786.5 869.3L786.9 869.2L787.3 880.5L787.6 878.7L788.0 885.0L788.3 891.4L788.7 892.0L789.1 889.8L789.4 894.3L789.8 893.7L790.1 898.8L790.5 894.1L790.9 896.5L791.2 895.4L791.6 903.3L791.9 906.5L792.3 907.5L792.7 914.2L793.0 912.3L793.4 912.9L793.7 912.6L794.1 908.1L794.5 918.4L794.8 919.7L795.2 917.3L795.5 929.4L795.9 916.8L796.3 915.4L796.8 912.1L797.3 868.2L797.8 830.2L798.4 802.7L798.8 785.7L799.2 764.7L799.5 767.8L799.9 769.7L800.2 769.8L800.6 779.0L800.9 778.4L801.3 789.0L801.7 785.3L802.0 784.2L802.4 786.6L802.7 790.5L803.1 795.0L803.5 805.8L803.8 808.3L804.2 815.8L804.5 823.1L804.9 826.0L805.3 822.1L805.6 831.8L806.0 833.5L806.3 840.5L806.7 844.6L807.1 843.5L807.4 843.6L807.8 847.3L808.1 857.4L808.5 853.7L808.9 855.7L809.2 860.4L809.6 870.4L809.9 855.6L810.3 858.8L810.7 859.7L811.0 867.1L811.4 871.4L811.7 863.8L812.1 869.9L812.5 873.2L812.8 867.9L813.2 873.1L813.5 868.9L813.9 870.0L814.3 879.6L814.6 880.3L815.0 872.1L815.3 875.2L815.7 878.9L816.1 874.1L816.4 872.6L816.8 881.7L817.1 886.0L817.5 881.9L817.9 886.6L818.2 877.7L818.6 883.2L818.9 882.5L819.3 890.3L819.7 892.8L820.0 891.2L820.4 891.9L820.7 883.3L821.1 881.4L821.5 881.8L821.8 888.3L822.2 889.6L822.5 898.3L822.9 897.9L823.3 899.4L823.6 896.1L824.0 893.1L824.3 892.3L824.7 894.4L825.1 894.0L825.4 899.5L825.8 897.3L826.1 901.1L826.5 900.8L826.9 882.6L827.2 891.2L827.6 890.1L827.9 905.9L828.3 894.7L828.7 901.6L829.0 902.4L829.4 892.1L829.7 890.3L830.1 893.5L830.5 896.2L830.8 891.7L831.2 896.7L831.5 893.2L831.9 895.3L832.3 909.5L832.6 900.0L833.0 911.8L833.3 907.2L833.7 899.6L834.1 893.8L834.4 891.7L834.8 898.8L835.1 890.4L835.5 900.6L835.9 892.6L836.2 889.9L836.6 893.5L836.9 896.5L837.3 900.6L837.7 894.8L838.0 900.8L838.4 898.9L838.7 902.4L839.1 890.3L839.5 890.4L839.8 898.4L840.2 894.9L840.5 899.4L840.9 895.8L841.3 890.9L841.6 896.3L842.0 901.7L842.3 905.5L842.7 906.3L843.1 904.2L843.4 898.4L843.8 894.5L844.1 904.0L844.5 903.7L844.9 898.9L845.2 895.3L845.6 892.6L845.9 900.5L846.3 902.6L846.7 897.9L847.0 895.9L847.4 906.2L847.7 896.8L848.1 908.5L848.5 900.0L848.8 901.3L849.2 904.9L849.5 904.2L849.9 900.5L850.3 911.9L850.6 904.3L851.0 908.5L851.3 909.8L851.7 906.4L852.1 906.3L852.4 905.1L852.8 911.2L853.1 908.6L853.5 905.7L853.9 906.2L854.2 898.5L854.6 903.2L854.9 911.3L855.3 914.4L855.7 905.2L856.0 898.5L856.4 904.0L856.7 901.9L857.1 910.1L857.5 896.2L857.8 899.7L858.2 909.3L858.5 905.4L858.9 898.8L859.3 906.2L859.6 907.0L860.0 903.9L860.3 912.6L860.7 908.0L861.1 907.6L861.4 910.9L861.8 909.5L862.1 899.6L862.5 909.5L862.9 905.2L863.2 911.2L863.6 905.9L863.9 911.7L864.3 895.4L864.7 900.9L865.0 905.5L865.4 907.3L865.7 901.4L866.1 900.6L866.5 895.5L866.8 906.2L867.2 898.9L867.5 910.3L867.9 901.6L868.3 898.8L868.6 894.8L869.0 896.5L869.3 904.9L869.7 898.8L870.1 898.3L870.4 891.0L870.8 898.1L871.1 901.2L871.5 901.1L872.0 897.7L872.6 885.5L872.9 875.9L873.3 869.3L873.7 861.0L874.0 854.4L874.4 841.3L875.0 829.6L875.5 820.3L875.8 813.4L876.2 807.8L876.5 798.4L876.9 786.4L877.3 780.9L877.6 771.4L878.0 775.4L878.6 783.4L879.1 792.7L879.4 800.7L879.8 808.9L880.1 814.7L880.5 824.3L880.9 824.2L881.2 833.7L881.6 840.7L881.9 846.2L882.3 851.1L882.7 858.8L883.0 866.7L883.4 867.6L883.7 872.0L884.1 875.4L884.5 871.3L884.8 884.7L885.2 884.5L885.5 884.6L885.9 892.2L886.3 893.0L886.6 898.8L887.0 897.4L887.3 897.0L887.7 904.2L888.1 895.0L888.4 905.4L888.8 911.1L889.1 911.2L889.5 908.7L889.9 915.9L890.2 917.7L890.6 907.4L890.9 908.5L891.3 919.9L891.7 918.9L892.0 921.4L892.4 924.8L892.7 914.4L893.1 914.6L893.5 906.3L893.8 906.7L894.3 907.9L894.9 871.4L895.4 840.0L896.0 804.0L896.4 775.0L896.7 772.1L897.1 767.4L897.4 762.2L897.8 760.6L898.1 756.7L898.5 755.4L898.9 761.8L899.2 763.8L899.6 764.0L899.9 769.9L900.3 774.9L900.7 782.5L901.0 791.6L901.4 798.2L901.8 805.8L902.1 806.1L902.5 814.2L902.8 814.5L903.2 828.6L903.5 825.7L903.9 831.3L904.3 826.0L904.6 828.1L905.0 825.4L905.3 828.3L905.7 830.7L906.1 831.2L906.4 829.9L906.8 829.9L907.1 838.9L907.5 841.3L907.9 843.9L908.2 846.9L908.6 853.7L908.9 849.2L909.3 850.7L909.7 856.8L910.0 851.9L910.4 863.0L910.7 861.2L911.1 863.7L911.5 867.6L911.8 861.0L912.2 875.2L912.5 874.4L912.9 867.3L913.3 869.8L913.6 868.1L914.0 862.4L914.3 873.9L914.7 865.8L915.1 877.1L915.4 874.5L915.8 869.4L916.1 865.5L916.5 862.2L916.9 868.3L917.2 877.2L917.6 872.3L917.9 872.6L918.3 871.8L918.7 875.3L919.0 877.7L919.4 873.2L919.7 867.3L920.1 877.9L920.5 882.8L920.8 880.3L921.2 879.0L921.5 881.1L921.9 886.6L922.3 873.3L922.6 884.6L923.0 877.9L923.3 891.2L923.7 881.6L924.1 876.0L924.4 874.9L924.8 880.5L925.1 881.4L925.5 885.1L925.9 884.9L926.2 891.9L926.6 897.5L926.9 891.4L927.3 888.2L927.7 878.2L928.0 882.5L928.4 879.8L928.7 884.9L929.1 883.3L929.5 876.3L929.8 887.0L930.2 881.4L930.5 885.3L930.9 888.2L931.3 877.1L931.6 884.2L932.0 885.2L932.3 886.8L932.7 886.9L933.1 886.2L933.4 884.2L933.8 887.4L934.1 894.1L934.5 883.8L934.9 888.3L935.2 886.7L935.6 877.8L935.9 869.9L936.3 883.9L936.7 883.1L937.0 896.1L937.4 889.2L937.7 897.9L938.1 896.2L938.5 884.6L938.8 879.6L939.2 889.2L939.5 890.8L939.9 887.8L940.3 893.1L940.6 896.3L941.0 898.3L941.3 895.3L941.7 887.0L942.1 885.4L942.4 892.2L942.8 891.5L943.1 897.8L943.5 887.0L943.9 902.7L944.2 897.6L944.6 893.0L944.9 883.3L945.3 877.5L945.7 883.7L946.0 892.0L946.4 892.2L946.7 897.9L947.1 893.8L947.5 887.5L947.8 894.3L948.2 895.2L948.5 893.6L948.9 894.9L949.3 885.6L949.6 886.2L950.0 897.7L950.3 885.3L950.7 890.7L951.1 897.2L951.4 898.2L951.8 895.8L952.1 891.0L952.5 889.2L952.9 895.8L953.2 901.0L953.6 894.4L953.9 894.9L954.3 900.8L954.7 889.2L955.0 902.6L955.4 894.9L955.7 898.1L956.1 903.9L956.5 898.4L956.8 892.9L957.2 887.7L957.5 887.8L957.9 895.5L958.3 892.8L958.6 891.6L959.0 902.0L959.3 908.4L959.7 897.0L960.1 906.8L960.4 901.7L960.8 893.7L961.1 891.6L961.5 900.6L961.9 897.8L962.2 897.5L962.6 894.1L962.9 892.3L963.3 903.7L963.7 908.3L964.0 896.4L964.4 902.1L964.7 899.2L965.1 902.8L965.5 901.7L965.8 906.4L966.2 901.1L966.5 900.6L966.9 895.1L967.3 902.2L967.6 891.7L968.0 897.4L968.3 893.9L968.7 894.5L969.1 887.1L969.4 898.1L969.8 898.7L970.1 903.4L970.5 907.7L970.9 912.9L971.2 907.9L971.6 900.7L971.9 907.3L972.3 904.6L972.7 896.6L973.0 906.5L973.4 909.5L973.7 903.6L974.1 903.2L974.5 895.2L974.8 906.4L975.2 899.6L975.5 901.4L975.9 906.4L976.3 912.0L976.6 916.1L977.0 919.9L977.3 922.0" fill="none" stroke="#0808e0" stroke-width="3.0" stroke-linejoin="round" stroke-linecap="round"/>
<path d="M140.8 938.1L141.4 938.1L141.9 938.2L142.5 938.7L143.0 938.9L143.6 939.3L144.2 939.6L144.7 937.1L145.3 938.6L145.8 939.6L146.4 939.7L147.0 938.8L147.5 939.5L148.1 939.3L148.6 939.2L149.2 940.3L149.8 940.5L150.3 940.3L150.9 940.5L151.4 940.6L152.0 940.6L152.6 940.2L153.1 940.8L153.7 940.2L154.2 940.4L154.8 941.2L155.4 940.0L155.9 941.1L156.5 940.7L157.0 941.1L157.6 940.9L158.2 940.8L158.7 940.6L159.3 941.3L159.8 936.7L160.4 940.9L161.0 940.5L161.5 940.0L162.1 940.6L162.6 941.7L163.2 941.0L163.8 941.1L164.3 941.1L164.9 941.7L165.4 941.4L166.0 939.6L166.6 940.8L167.1 941.2L167.7 941.1L168.2 939.6L168.8 941.0L169.4 940.7L169.9 941.7L170.5 939.9L171.0 940.8L171.6 941.9L172.2 941.6L172.7 941.5L173.3 940.8L173.8 941.7L174.4 940.9L175.0 937.0L175.5 940.9L176.1 941.8L176.6 941.3L177.2 941.8L177.8 941.8L178.3 940.6L178.9 941.9L179.4 941.3L180.0 941.7L180.6 940.6L181.1 941.0L181.7 940.8L182.2 941.5L182.8 939.3L183.4 941.6L183.9 941.4L184.5 941.2L185.0 941.4L185.6 941.6L186.2 941.4L186.7 939.8L187.3 917.3L187.8 884.3L188.4 847.5L189.0 807.1L189.5 764.6L190.1 719.7L190.6 673.1L191.2 624.4L191.8 574.2L192.3 522.0L192.9 470.2L193.3 430.0L194.0 447.6L194.6 535.0L195.1 607.2L195.7 666.2L196.2 714.6L196.8 754.5L197.4 787.1L197.9 813.9L198.5 836.0L199.0 854.2L199.6 869.3L200.2 881.6L200.7 891.6L201.3 900.1L201.8 905.8L202.4 913.2L203.0 917.8L203.5 921.5L204.1 924.5L204.6 926.8L205.2 929.2L205.8 931.9L206.3 932.0L206.9 934.1L207.4 935.4L208.0 935.2L208.6 937.1L209.1 937.5L209.7 936.6L210.2 938.4L210.8 938.8L211.4 939.4L211.9 939.3L212.5 939.8L213.0 939.3L213.6 939.6L214.2 937.4L214.7 940.7L215.3 940.5L215.8 940.8L216.4 940.5L217.0 941.0L217.5 940.4L218.1 939.1L218.6 941.1L219.2 941.3L219.8 939.4L220.3 940.5L220.9 940.4L221.4 941.6L222.0 940.4L222.6 940.1L223.1 941.6L223.7 941.0L224.2 941.3L224.8 940.6L225.4 941.0L225.9 941.7L226.5 941.8L227.0 939.8L227.6 941.5L228.2 940.9L228.7 939.5L229.3 941.4L229.8 941.8L230.4 940.4L231.0 939.7L231.5 941.2L232.1 941.2L232.6 941.3L233.2 940.8L233.8 940.7L234.3 941.1L234.9 941.8L235.4 941.4L236.0 940.6L236.6 941.3L237.1 940.9L237.7 937.1L238.2 940.6L238.8 939.7L239.4 941.1L239.9 940.2L240.5 939.6L241.0 940.3L241.6 939.9L242.2 941.8L242.7 941.4L243.3 940.9L243.8 940.4L244.4 941.6L245.0 941.3L245.5 941.8L246.1 941.9L246.6 940.2L247.2 939.9L247.8 941.7L248.3 941.6L248.9 941.0L249.4 941.0L250.0 941.3L250.6 941.5L251.1 941.2L251.7 941.9L252.2 941.3L252.8 941.8L253.4 941.1L253.9 941.0L254.5 940.7L255.0 940.6L255.6 941.7L256.2 940.5L256.7 940.8L257.3 937.3L257.8 941.3L258.4 940.8L259.0 940.8L259.5 941.6L260.1 941.8L260.6 941.7L261.2 941.8L261.8 940.9L262.3 940.6L262.9 941.4L263.4 941.8L264.0 941.2L264.6 941.0L265.1 940.4L265.7 940.5L266.2 941.6L266.8 941.5L267.4 941.4L267.9 941.3L268.5 941.2L269.0 936.7L269.6 940.1L270.2 941.6L270.7 939.6L271.3 941.3L271.8 941.3L272.4 941.6L273.0 941.5L273.5 941.8L274.1 941.7L274.6 941.6L275.2 941.1L275.8 941.4L276.3 941.3L276.9 940.8L277.4 940.9L278.0 941.0L278.6 940.0L279.1 941.7L279.7 938.0L280.2 941.5L280.8 940.8L281.4 941.1L281.9 940.7L282.5 940.4L283.0 941.8L283.6 941.1L284.2 939.4L284.7 938.1L285.3 911.9L285.8 879.4L286.4 842.6L287.0 803.1L287.5 761.0L288.1 716.7L288.6 670.6L289.2 622.9L289.8 573.4L290.3 523.2L291.0 460.3L291.4 472.3L292.0 508.2L292.6 585.0L293.1 648.0L293.7 699.9L294.2 742.2L294.8 777.1L295.4 805.8L295.9 829.5L296.5 848.8L297.0 864.9L297.6 878.0L298.2 888.8L298.7 897.8L299.3 904.9L299.8 910.7L300.4 915.0L301.0 919.4L301.5 923.0L302.1 925.0L302.6 929.2L303.2 930.5L303.8 931.3L304.3 932.4L304.9 935.5L305.4 936.5L306.0 937.3L306.6 937.8L307.1 938.0L307.7 937.7L308.2 937.8L308.8 937.6L309.4 938.0L309.9 939.0L310.5 938.8L311.0 938.6L311.6 939.6L312.2 939.9L312.7 937.8L313.3 939.1L313.8 939.1L314.4 940.1L315.0 940.6L315.5 938.7L316.1 939.5L316.6 939.7L317.2 940.2L317.8 941.1L318.3 940.2L318.9 940.6L319.4 940.7L320.0 940.3L320.6 940.7L321.1 941.4L321.7 941.5L322.2 941.4L322.8 941.2L323.4 941.6L323.9 941.1L324.5 939.3L325.0 941.2L325.6 941.7L326.2 941.6L326.7 940.4L327.3 941.3L327.8 941.4L328.4 936.3L329.0 941.7L329.5 940.2L330.1 940.7L330.6 939.2L331.2 941.5L331.8 940.6L332.3 941.3L332.9 939.9L333.4 940.3L334.0 941.4L334.6 941.6L335.1 940.6L335.7 939.9L336.2 939.8L336.8 941.0L337.4 940.2L337.9 941.0L338.5 940.3L339.0 939.9L339.6 941.4L340.2 941.6L340.7 939.2L341.3 940.5L341.8 941.6L342.4 940.4L343.0 936.4L343.5 935.0L344.1 941.9L344.6 941.3L345.2 941.7L345.8 941.6L346.3 940.7L346.9 940.2L347.4 940.4L348.0 941.1L348.6 940.8L349.1 941.7L349.7 936.2L350.2 941.4L350.8 939.3L351.4 941.0L351.9 940.0L352.5 941.7L353.0 941.6L353.6 941.6L354.2 940.9L354.7 939.7L355.3 941.5L355.8 941.7L356.4 939.6L357.0 941.3L357.5 941.5L358.1 940.8L358.6 940.7L359.2 941.4L359.8 939.9L360.3 941.1L360.9 941.6L361.4 939.9L362.0 941.5L362.6 941.0L363.1 941.3L363.7 938.8L364.2 941.8L364.8 941.0L365.4 940.6L365.9 940.0L366.5 940.6L367.0 941.0L367.6 941.3L368.2 938.6L368.7 941.5L369.3 940.6L369.8 941.6L370.4 941.3L371.0 941.0L371.5 940.9L372.1 941.1L372.6 941.0L373.2 941.7L373.8 940.5L374.3 941.0L374.9 941.2L375.4 940.5L376.0 941.6L376.6 941.8L377.1 941.5L377.7 941.8L378.2 941.2L378.8 941.2L379.4 941.0L379.9 940.6L380.5 936.2L381.0 941.9L381.6 941.4L382.2 940.8L382.7 922.4L383.3 893.6L383.8 857.6L384.4 817.9L385.0 775.5L385.5 730.7L386.1 683.7L386.6 635.4L387.2 585.4L387.8 533.6L388.5 463.7L388.9 469.7L389.4 478.6L390.0 511.2L390.6 587.4L391.1 650.1L391.7 701.5L392.2 743.8L392.8 778.3L393.4 806.7L393.9 830.0L394.5 849.4L395.0 865.2L395.6 878.4L396.2 888.9L396.7 898.0L397.3 905.8L397.8 911.6L398.4 916.8L399.0 920.4L399.5 921.4L400.1 926.9L400.6 929.1L401.2 931.4L401.8 932.3L402.3 934.1L402.9 934.9L403.4 935.9L404.0 936.6L404.6 937.6L405.1 938.4L405.7 937.5L406.2 937.3L406.8 935.8L407.4 937.0L407.9 937.5L408.5 938.2L409.0 937.8L409.6 938.3L410.2 937.6L410.7 939.2L411.3 939.1L411.8 939.1L412.4 933.5L413.0 940.2L413.5 940.4L414.1 940.0L414.6 938.2L415.2 939.6L415.8 937.6L416.3 939.6L416.9 940.4L417.4 941.0L418.0 939.3L418.6 939.0L419.1 941.2L419.7 941.3L420.2 940.5L420.8 940.6L421.4 940.3L421.9 940.9L422.5 941.4L423.0 939.4L423.6 939.5L424.2 941.0L424.7 940.6L425.3 941.0L425.8 941.1L426.4 939.8L427.0 939.7L427.5 939.3L428.1 940.7L428.6 939.5L429.2 941.3L429.8 941.1L430.3 940.5L430.9 941.3L431.4 939.0L432.0 941.1L432.6 941.3L433.1 941.7L433.7 940.9L434.2 940.0L434.8 941.1L435.4 941.7L435.9 941.2L436.5 940.6L437.0 940.4L437.6 941.8L438.2 941.3L438.7 940.3L439.3 941.2L439.8 940.9L440.4 940.6L441.0 941.5L441.5 941.7L442.1 941.1L442.6 941.1L443.2 940.9L443.8 941.4L444.3 939.6L444.9 940.5L445.4 941.1L446.0 941.8L446.6 941.8L447.1 941.2L447.7 936.4L448.2 940.7L448.8 940.3L449.4 941.3L449.9 941.0L450.5 940.7L451.0 941.0L451.6 941.5L452.2 941.8L452.7 940.9L453.3 941.9L453.8 941.8L454.4 940.6L455.0 941.7L455.5 941.2L456.1 939.5L456.6 941.7L457.2 941.5L457.8 938.4L458.3 940.2L458.9 941.3L459.4 940.8L460.0 941.4L460.6 941.1L461.1 941.7L461.7 941.3L462.2 941.5L462.8 941.3L463.4 940.2L463.9 941.7L464.5 940.9L465.0 941.7L465.6 941.6L466.2 941.5L466.7 941.4L467.3 941.6L467.8 941.6L468.4 940.0L469.0 941.1L469.5 941.8L470.1 941.7L470.6 941.4L471.2 941.8L471.8 940.3L472.3 937.3L472.9 941.5L473.4 940.2L474.0 941.6L474.6 941.4L475.1 941.9L475.7 941.8L476.2 941.7L476.8 941.4L477.4 941.9L477.9 940.0L478.5 941.7L479.0 939.9L479.6 940.7L480.2 941.4L480.7 941.1L481.3 924.2L481.8 888.0L482.4 846.1L483.0 799.6L483.5 749.9L484.1 697.6L484.6 642.8L485.2 586.0L485.8 527.3L486.3 466.4L486.7 424.8L487.4 443.9L488.0 507.5L488.6 584.4L489.1 647.2L489.7 699.3L490.2 741.8L490.8 776.7L491.4 805.6L491.9 829.1L492.5 848.6L493.0 863.9L493.6 877.7L494.2 888.6L494.7 897.5L495.3 905.3L495.8 906.7L496.4 915.7L497.0 917.6L497.5 922.5L498.1 926.7L498.6 929.3L499.2 931.1L499.8 932.8L500.3 933.3L500.9 935.4L501.4 935.3L502.0 937.1L502.6 937.7L503.1 938.2L503.7 936.9L504.2 937.7L504.8 936.2L505.4 934.6L505.9 934.2L506.5 934.2L507.0 935.2L507.6 936.1L508.2 937.4L508.7 937.3L509.3 937.9L509.8 938.6L510.4 936.8L511.0 938.7L511.5 938.8L512.1 937.4L512.6 939.3L513.2 939.1L513.8 939.6L514.3 938.7L514.9 940.5L515.4 940.1L516.0 940.4L516.6 938.4L517.1 940.3L517.7 940.8L518.2 938.9L518.8 940.3L519.4 940.8L519.9 941.0L520.5 937.3L521.0 939.7L521.6 941.2L522.2 941.2L522.7 939.8L523.3 940.9L523.8 940.7L524.4 939.9L525.0 940.4L525.5 940.7L526.1 939.9L526.6 941.2L527.2 941.5L527.8 940.5L528.3 936.7L528.9 941.6L529.4 941.2L530.0 940.9L530.6 939.8L531.1 940.2L531.7 941.0L532.2 938.5L532.8 940.7L533.4 941.3L533.9 941.3L534.5 940.8L535.0 941.2L535.6 936.2L536.2 941.6L536.7 940.9L537.3 941.6L537.8 940.1L538.4 941.3L539.0 940.0L539.5 941.5L540.1 940.8L540.6 939.3L541.2 941.2L541.8 941.5L542.3 940.4L542.9 936.2L543.4 941.9L544.0 941.5L544.6 941.6L545.1 940.9L545.7 941.4L546.2 941.5L546.8 941.8L547.4 941.4L547.9 941.4L548.5 941.1L549.0 941.1L549.6 941.7L550.2 941.3L550.7 941.6L551.3 941.4L551.8 940.2L552.4 941.4L553.0 939.0L553.5 940.5L554.1 941.1L554.6 941.4L555.2 941.7L555.8 941.4L556.3 937.3L556.9 941.8L557.4 940.6L558.0 941.4L558.6 940.8L559.1 939.8L559.7 941.7L560.2 939.5L560.8 941.0L561.4 941.5L561.9 941.7L562.5 941.5L563.0 940.9L563.6 941.3L564.2 941.7L564.7 941.4L565.3 941.7L565.8 939.4L566.4 941.3L567.0 940.5L567.5 941.0L568.1 940.6L568.6 940.7L569.2 940.2L569.8 941.3L570.3 941.1L570.9 940.5L571.4 941.2L572.0 940.7L572.6 940.7L573.1 941.4L573.7 941.4L574.2 941.2L574.8 941.6L575.4 941.2L575.9 940.9L576.5 941.2L577.0 941.2L577.6 941.8L578.2 941.8L578.7 939.6L579.3 923.1L579.8 892.2L580.4 857.6L581.0 819.7L581.5 779.0L582.1 736.4L582.6 691.6L583.2 645.3L583.8 596.9L584.6 523.2L585.4 533.5L586.0 537.6L586.6 609.3L587.1 667.8L587.7 716.4L588.2 755.9L588.8 788.6L589.4 815.2L589.9 837.1L590.5 855.1L591.0 870.3L591.6 882.5L592.2 892.5L592.7 900.7L593.3 907.5L593.8 911.3L594.4 917.2L595.0 919.8L595.5 925.5L596.1 926.9L596.6 928.3L597.2 925.6L597.8 933.0L598.3 933.2L598.9 934.5L599.4 936.6L600.0 936.9L600.6 937.3L601.1 937.5L601.7 930.3L602.2 928.4L602.8 926.0L603.4 928.8L603.9 929.7L604.5 931.1L605.0 931.4L605.6 931.3L606.2 933.3L606.7 934.6L607.3 935.1L607.8 935.8L608.4 935.6L609.0 936.5L609.5 936.8L610.1 937.7L610.6 937.6L611.2 938.5L611.8 938.1L612.3 934.7L612.9 939.3L613.4 939.3L614.0 938.8L614.6 939.1L615.1 938.9L615.7 939.0L616.2 938.4L616.8 936.1L617.4 939.8L617.9 938.9L618.5 940.7L619.0 940.9L619.6 940.7L620.2 940.6L620.7 939.8L621.3 940.8L621.8 939.5L622.4 941.0L623.0 941.0L623.5 941.3L624.1 940.6L624.6 941.4L625.2 941.3L625.8 940.1L626.3 941.6L626.9 941.1L627.4 940.3L628.0 940.9L628.6 941.1L629.1 939.6L629.7 941.3L630.2 941.2L630.8 941.3L631.4 941.0L631.9 941.4L632.5 941.4L633.0 939.7L633.6 941.2L634.2 941.4L634.7 941.1L635.3 939.7L635.8 941.6L636.4 939.5L637.0 941.8L637.5 941.9L638.1 938.5L638.6 939.8L639.2 941.2L639.8 941.6L640.3 940.7L640.9 941.7L641.4 939.6L642.0 941.2L642.6 941.2L643.1 941.6L643.7 940.8L644.2 941.6L644.8 941.6L645.4 941.0L645.9 941.5L646.5 939.5L647.0 941.6L647.6 941.1L648.2 941.8L648.7 941.6L649.3 941.8L649.8 941.5L650.4 936.7L651.0 941.1L651.5 941.3L652.1 941.6L652.6 941.7L653.2 941.2L653.8 941.0L654.3 941.8L654.9 941.0L655.4 937.1L656.0 941.6L656.6 941.7L657.1 940.7L657.7 939.3L658.2 941.2L658.8 941.5L659.4 941.1L659.9 940.4L660.5 940.7L661.0 940.6L661.6 941.3L662.2 941.0L662.7 941.7L663.3 940.9L663.8 941.3L664.4 941.4L665.0 940.7L665.5 940.5L666.1 941.4L666.6 941.6L667.2 941.9L667.8 941.1L668.3 940.4L668.9 940.5L669.4 941.0L670.0 941.0L670.6 941.5L671.1 941.6L671.7 941.1L672.2 941.3L672.8 941.6L673.4 940.1L673.9 941.8L674.5 939.5L675.0 940.1L675.6 941.4L676.2 941.0L676.7 940.4L677.3 941.6L677.8 921.2L678.4 886.1L679.0 845.1L679.5 800.2L680.1 752.2L680.6 701.4L681.2 648.4L681.8 593.7L682.6 508.0L683.4 522.8L684.0 564.6L684.6 631.5L685.1 686.2L685.7 731.3L686.2 768.2L686.8 798.4L687.4 823.4L687.9 843.8L688.5 860.7L689.0 874.8L689.6 886.2L690.2 895.6L690.7 903.2L691.3 910.0L691.8 914.5L692.4 919.7L693.0 922.9L693.5 925.6L694.1 928.7L694.6 927.5L695.2 932.3L695.8 933.4L696.3 933.7L696.9 936.4L697.4 936.3L698.0 933.8L698.6 936.9L699.1 938.4L699.7 938.3L700.2 938.0L700.8 934.0L701.4 931.6L701.9 931.7L702.5 932.3L703.0 932.5L703.6 934.6L704.2 934.4L704.7 935.8L705.3 935.2L705.8 936.5L706.4 937.0L707.0 936.6L707.5 937.3L708.1 938.4L708.6 938.4L709.2 934.6L709.8 938.0L710.3 938.3L710.9 939.4L711.4 938.5L712.0 939.6L712.6 939.7L713.1 936.7L713.7 939.8L714.2 939.7L714.8 939.9L715.4 940.4L715.9 940.8L716.5 940.2L717.0 940.9L717.6 941.1L718.2 941.0L718.7 941.1L719.3 941.3L719.8 940.5L720.4 940.3L721.0 940.8L721.5 940.4L722.1 941.6L722.6 941.1L723.2 940.4L723.8 940.4L724.3 941.0L724.9 941.0L725.4 940.9L726.0 941.6L726.6 941.7L727.1 938.0L727.7 940.5L728.2 941.6L728.8 941.4L729.4 941.5L729.9 939.6L730.5 941.6L731.0 941.3L731.6 941.4L732.2 941.2L732.7 941.6L733.3 941.5L733.8 940.9L734.4 941.4L735.0 941.6L735.5 941.5L736.1 941.3L736.6 941.5L737.2 940.4L737.8 941.6L738.3 941.5L738.9 940.3L739.4 941.3L740.0 941.4L740.6 940.8L741.1 941.7L741.7 940.5L742.2 941.6L742.8 940.3L743.4 940.3L743.9 940.0L744.5 938.9L745.0 941.5L745.6 941.7L746.2 941.0L746.7 938.9L747.3 939.8L747.8 941.9L748.4 941.1L749.0 941.2L749.5 941.5L750.1 941.3L750.6 941.4L751.2 940.8L751.8 941.6L752.3 941.3L752.9 939.9L753.4 939.2L754.0 940.4L754.6 941.7L755.1 941.4L755.7 939.9L756.2 941.4L756.8 941.9L757.4 941.1L757.9 941.5L758.5 941.4L759.0 941.4L759.6 940.9L760.2 940.6L760.7 941.6L761.3 941.6L761.8 934.8L762.4 941.0L763.0 935.9L763.5 936.1L764.1 941.7L764.6 941.0L765.2 940.7L765.8 941.1L766.3 940.8L766.9 941.4L767.4 941.6L768.0 941.0L768.6 941.7L769.1 941.1L769.7 941.1L770.2 940.9L770.8 941.6L771.4 939.7L771.9 937.0L772.5 941.1L773.0 941.4L773.6 941.3L774.2 940.1L774.7 941.0L775.3 931.3L775.8 899.3L776.4 862.0L777.0 820.4L777.5 776.1L778.1 728.9L778.6 679.5L779.2 628.5L779.8 575.3L780.5 502.9L780.9 510.4L781.4 509.1L782.0 585.3L782.6 648.9L783.1 700.3L783.7 742.8L784.2 777.6L784.8 806.3L785.4 829.8L785.9 849.2L786.5 865.3L787.0 878.2L787.6 889.0L788.2 898.0L788.7 903.8L789.3 911.2L789.8 915.8L790.4 919.3L791.0 924.4L791.5 925.2L792.1 928.9L792.6 930.7L793.2 932.0L793.8 932.1L794.3 933.1L794.9 936.0L795.4 936.7L796.0 935.9L796.6 936.1L797.1 938.7L797.7 938.4L798.2 939.8L798.8 939.9L799.4 938.4L799.9 940.1L800.5 936.6L801.0 933.7L801.6 931.3L802.2 932.4L802.7 933.6L803.3 932.5L803.8 934.1L804.4 935.7L805.0 936.1L805.5 935.9L806.1 936.0L806.6 936.9L807.2 937.3L807.8 938.0L808.3 937.7L808.9 938.4L809.4 938.5L810.0 939.1L810.6 938.7L811.1 939.1L811.7 938.9L812.2 940.2L812.8 940.2L813.4 940.5L813.9 940.7L814.5 940.5L815.0 939.9L815.6 940.9L816.2 939.1L816.7 940.1L817.3 940.4L817.8 941.2L818.4 940.9L819.0 940.5L819.5 940.1L820.1 940.2L820.6 941.4L821.2 940.5L821.8 940.4L822.3 940.3L822.9 940.4L823.4 941.1L824.0 941.3L824.6 941.2L825.1 940.7L825.7 941.2L826.2 941.1L826.8 941.5L827.4 936.6L827.9 941.6L828.5 941.3L829.0 941.6L829.6 941.3L830.2 941.1L830.7 941.0L831.3 941.3L831.8 941.2L832.4 941.0L833.0 941.6L833.5 941.5L834.1 940.8L834.6 940.1L835.2 941.3L835.8 940.4L836.3 941.2L836.9 941.4L837.4 940.5L838.0 941.6L838.6 940.6L839.1 940.9L839.7 941.8L840.2 941.9L840.8 941.9L841.4 941.0L841.9 940.9L842.5 941.5L843.0 941.7L843.6 941.7L844.2 940.9L844.7 941.6L845.3 941.5L845.8 941.5L846.4 941.9L847.0 940.2L847.5 941.1L848.1 941.0L848.6 940.8L849.2 941.3L849.8 941.0L850.3 941.1L850.9 941.7L851.4 941.0L852.0 941.6L852.6 941.2L853.1 940.6L853.7 941.9L854.2 941.7L854.8 940.2L855.4 940.9L855.9 941.9L856.5 941.8L857.0 941.5L857.6 941.7L858.2 941.0L858.7 941.8L859.3 941.9L859.8 941.7L860.4 939.0L861.0 941.9L861.5 941.8L862.1 940.9L862.6 940.9L863.2 941.9L863.8 941.1L864.3 938.4L864.9 941.5L865.4 940.8L866.0 940.5L866.6 940.2L867.1 941.3L867.7 941.2L868.2 941.0L868.8 941.1L869.4 936.2L869.9 941.8L870.5 941.8L871.0 941.8L871.6 940.7L872.2 941.9L872.7 941.6L873.3 938.3L873.8 909.8L874.4 872.4L875.0 830.0L875.5 784.1L876.1 735.3L876.6 683.3L877.2 630.8L877.8 575.4L878.3 518.6L878.7 478.9L879.4 494.2L880.0 539.2L880.6 610.5L881.1 669.1L881.7 717.1L882.2 756.5L882.8 788.9L883.4 815.6L883.9 837.4L884.5 855.5L885.0 870.1L885.6 882.2L886.2 892.5L886.7 900.8L887.3 907.5L887.8 913.4L888.4 917.4L889.0 922.1L889.5 925.0L890.1 927.9L890.6 928.6L891.2 931.8L891.8 933.0L892.3 934.3L892.9 935.2L893.4 936.6L894.0 936.0L894.6 937.0L895.1 936.7L895.7 936.6L896.2 932.8L896.8 930.3L897.4 929.4L897.9 929.9L898.5 930.6L899.0 930.7L899.6 933.3L900.2 933.7L900.7 933.7L901.3 935.2L901.8 935.4L902.4 936.8L903.0 936.8L903.5 936.1L904.1 937.8L904.6 937.0L905.2 938.3L905.8 938.5L906.3 937.7L906.9 938.0L907.4 939.6L908.0 939.8L908.6 939.3L909.1 939.1L909.7 939.0L910.2 940.4L910.8 940.0L911.4 940.0L911.9 940.0L912.5 940.0L913.0 940.8L913.6 939.7L914.2 941.1L914.7 940.3L915.3 940.8L915.8 941.0L916.4 939.2L917.0 941.1L917.5 940.5L918.1 941.1L918.6 940.5L919.2 941.1L919.8 936.9L920.3 940.9L920.9 941.4L921.4 941.7L922.0 940.7L922.6 940.1L923.1 941.1L923.7 941.4L924.2 940.4L924.8 941.1L925.4 941.1L925.9 939.4L926.5 941.2L927.0 941.0L927.6 941.2L928.2 936.7L928.7 941.6L929.3 941.8L929.8 941.3L930.4 941.7L931.0 937.5L931.5 941.6L932.1 940.3L932.6 940.6L933.2 939.5L933.8 941.5L934.3 941.7L934.9 941.6L935.4 935.6L936.0 941.3L936.6 941.1L937.1 940.6L937.7 941.2L938.2 941.5L938.8 940.9L939.4 941.0L939.9 941.4L940.5 941.1L941.0 941.5L941.6 940.6L942.2 941.9L942.7 941.0L943.3 941.6L943.8 941.8L944.4 941.4L945.0 941.3L945.5 940.8L946.1 941.7L946.6 940.8L947.2 941.8L947.8 941.8L948.3 940.9L948.9 941.1L949.4 940.1L950.0 940.9L950.6 941.7L951.1 941.0L951.7 940.6L952.2 941.6L952.8 940.9L953.4 937.6L953.9 940.6L954.5 939.5L955.0 941.0L955.6 941.1L956.2 940.0L956.7 940.9L957.3 941.3L957.8 941.8L958.4 940.9L959.0 941.6L959.5 941.2L960.1 940.7L960.6 941.8L961.2 939.8L961.8 940.5L962.3 941.5L962.9 940.8L963.4 940.7L964.0 940.4L964.6 940.1L965.1 941.2L965.7 940.0L966.2 939.0L966.8 941.7L967.4 941.9L967.9 939.9L968.5 941.3L969.0 941.7L969.6 940.1L970.2 941.2L970.7 941.7L971.3 941.5L971.8 940.9L972.4 941.1L973.0 939.8L973.5 940.5L974.1 940.0L974.6 940.9L975.2 940.6L975.8 941.2L976.3 941.7L976.9 941.0L977.4 941.0" fill="none" stroke="#e61010" stroke-width="2.9" stroke-linejoin="round" stroke-linecap="round"/>
<path d="M140.4 369.3V956.3M127.4 944.3H989.9M977.9 375.3V950.3M127.4 381.3H984.4M196.2 944.3v6M196.2 381.3v-6M252.1 944.3v12M252.1 381.3v-12M307.9 944.3v6M307.9 381.3v-6M363.7 944.3v12M363.7 381.3v-12M419.6 944.3v6M419.6 381.3v-6M475.4 944.3v12M475.4 381.3v-12M531.2 944.3v6M531.2 381.3v-6M587.1 944.3v12M587.1 381.3v-12M642.9 944.3v6M642.9 381.3v-6M698.7 944.3v12M698.7 381.3v-12M754.6 944.3v6M754.6 381.3v-6M810.4 944.3v12M810.4 381.3v-12M866.2 944.3v6M866.2 381.3v-6M922.1 944.3v12M922.1 381.3v-12M140.4 416.5h-6.5M140.4 451.7h-13M140.4 486.9h-6.5M140.4 522.0h-13M140.4 557.2h-6.5M140.4 592.4h-13M140.4 627.6h-6.5M140.4 662.8h-13M140.4 698.0h-6.5M140.4 733.2h-13M140.4 768.4h-6.5M140.4 803.6h-13M140.4 838.7h-6.5M140.4 873.9h-13M140.4 909.1h-6.5M977.9 893.1h6.5M977.9 841.9h12.5M977.9 790.8h6.5M977.9 739.6h12.5M977.9 688.4h6.5M977.9 637.2h12.5M977.9 586.0h6.5M977.9 534.8h12.5M977.9 483.7h6.5M977.9 432.5h12.5" stroke="#000000" stroke-width="2.25" fill="none" stroke-linecap="butt"/>
<text x="117.6" y="392.7" text-anchor="end" font-size="36.2" fill="#000000">0.4</text>
<text x="117.6" y="463.1" text-anchor="end" font-size="36.2" fill="#000000">0.2</text>
<text x="117.6" y="533.4" text-anchor="end" font-size="36.2" fill="#000000">0.0</text>
<text x="117.6" y="603.8" text-anchor="end" font-size="36.2" fill="#000000">-0.2</text>
<text x="117.6" y="674.2" text-anchor="end" font-size="36.2" fill="#000000">-0.4</text>
<text x="117.6" y="744.6" text-anchor="end" font-size="36.2" fill="#000000">-0.6</text>
<text x="117.6" y="815.0" text-anchor="end" font-size="36.2" fill="#000000">-0.8</text>
<text x="117.6" y="885.3" text-anchor="end" font-size="36.2" fill="#000000">-1.0</text>
<text x="117.6" y="955.7" text-anchor="end" font-size="36.2" fill="#000000">-1.2</text>
<text x="140.0" y="993.2" text-anchor="middle" font-size="36.2" fill="#000000">0</text>
<text x="251.7" y="993.2" text-anchor="middle" font-size="36.2" fill="#000000">200</text>
<text x="363.3" y="993.2" text-anchor="middle" font-size="36.2" fill="#000000">400</text>
<text x="475.0" y="993.2" text-anchor="middle" font-size="36.2" fill="#000000">600</text>
<text x="586.7" y="993.2" text-anchor="middle" font-size="36.2" fill="#000000">800</text>
<text x="698.3" y="993.2" text-anchor="middle" font-size="36.2" fill="#000000">1000</text>
<text x="810.0" y="993.2" text-anchor="middle" font-size="36.2" fill="#000000">1200</text>
<text x="921.7" y="993.2" text-anchor="middle" font-size="36.2" fill="#000000">1400</text>
<text x="997.5" y="955.7" text-anchor="start" font-size="36.2" fill="#000000">0</text>
<text x="997.5" y="853.3" text-anchor="start" font-size="36.2" fill="#000000">2000</text>
<text x="997.5" y="751.0" text-anchor="start" font-size="36.2" fill="#000000">4000</text>
<text x="997.5" y="648.6" text-anchor="start" font-size="36.2" fill="#000000">6000</text>
<text x="997.5" y="546.2" text-anchor="start" font-size="36.2" fill="#000000">8000</text>
<text x="999.7" y="443.9" text-anchor="start" font-size="36.2" fill="#000000">10000</text>
<text transform="translate(39.0 664.2) rotate(-90)" text-anchor="middle" font-size="44.6" fill="#000">Thickness variation (nm)</text>
<text x="559.4" y="1060.3" text-anchor="middle" font-size="44.4" textLength="167" lengthAdjust="spacingAndGlyphs" fill="#000">Time (s)</text>
<text transform="translate(1126 688.6) rotate(-90)" text-anchor="middle" font-size="40.3" fill="#0000d0">85 amu intensity (c/s)</text>
<text transform="translate(1172.4 688.6) rotate(-90)" text-anchor="middle" font-size="40.3" fill="#d60a0a">86 amu intensity (c/s)</text>
<rect x="476.6" y="0" width="495.4" height="399.5" fill="#ffffff"/>
<path d="M590.9 39.6V333.6M652.0 39.6V333.6M713.2 39.6V333.6M774.3 39.6V333.6M835.5 39.6V333.6M896.6 39.6V333.6M551.2 104.4H916.6M551.2 170.2H916.6M551.2 236.0H916.6M551.2 301.8H916.6" stroke="#cfcfcf" stroke-width="1.2" stroke-dasharray="1.2 1.8" fill="none"/>
<path d="M550.9 184.0L553.0 181.0L555.0 184.0L557.0 178.0L559.0 183.0L561.0 172.0L562.5 168.0L564.5 180.0L566.0 184.0L568.0 172.0L570.0 169.0L572.0 175.0L574.0 172.0L576.0 174.0L578.0 166.0L579.5 163.0L581.5 171.0L583.0 174.0L585.0 169.0L587.2 179.0L588.4 184.0L590.0 167.0L591.5 166.0L593.7 174.0L595.0 160.0L596.5 142.0L598.0 132.4L600.0 124.0L603.7 109.5L606.0 108.0L608.6 105.2L610.5 92.0L612.9 78.0L614.5 84.0L616.6 102.3L619.0 104.0L621.0 112.0L623.8 115.2L626.0 120.0L628.0 131.0L629.5 132.4L631.5 140.0L633.5 137.0L636.7 133.0L638.5 141.0L640.5 139.0L642.3 146.0L643.9 149.0L645.5 143.0L647.5 140.0L649.5 151.0L651.0 155.0L652.5 147.0L653.9 145.0L656.0 153.0L657.5 158.0L659.0 150.0L660.5 148.0L662.0 158.0L663.5 152.0L665.3 166.8L667.0 169.0L669.0 166.0L671.0 163.0L672.5 165.4L674.5 166.0L675.4 150.0L676.8 72.0L678.2 82.0L680.0 108.0L682.5 132.4L684.5 139.0L686.0 133.0L688.0 145.0L689.7 155.3L691.5 170.0L693.5 184.0L695.4 198.3L697.5 210.0L700.0 214.0L702.6 218.4L705.0 226.0L707.5 238.0L709.8 247.0L712.0 251.0L714.5 262.0L716.9 267.0L719.0 262.0L721.0 268.0L723.5 272.0L725.5 266.0L728.4 278.6L730.2 291.0L732.0 284.0L734.0 272.0L736.0 281.0L738.0 283.0L740.5 280.0L742.7 287.0L744.5 297.0L746.5 284.0L748.5 288.0L750.5 283.0L753.0 279.0L755.0 284.0L757.5 280.0L759.5 297.0L761.0 301.0L763.0 288.0L766.0 292.0L769.0 295.0L772.0 294.7L775.0 292.0L778.0 293.0L781.0 296.0L784.0 293.0L786.5 298.0L788.5 300.0L790.5 280.0L792.0 298.0L794.0 302.0L796.5 296.0L798.5 286.0L800.5 292.0L802.5 299.0L804.5 298.0L806.5 281.0L808.5 294.0L810.5 297.0L812.5 301.0L814.5 308.0L816.5 296.0L819.0 299.0L821.5 287.0L823.5 295.0L825.5 302.0L827.7 312.0L829.0 316.0L830.5 300.0L832.5 294.0L834.5 307.0L837.0 296.0L839.0 298.0L841.5 310.0L844.0 305.0L846.5 296.0L849.0 293.0L851.5 300.0L854.0 307.0L856.5 294.0L859.0 299.0L861.0 308.0L863.5 296.0L866.0 303.0L868.5 305.0L871.0 295.0L873.5 309.0L876.0 310.0L878.5 300.0L881.0 296.0L883.5 309.0L886.0 299.0L888.5 303.0L890.5 296.0L892.0 278.0L893.7 283.0L895.5 300.0L897.5 305.0L900.0 300.0L902.5 308.0L905.0 305.0L907.0 308.0L909.0 286.0L911.0 289.0L913.0 300.0L915.0 296.0L916.8 298.0" fill="none" stroke="#000000" stroke-width="3.6" stroke-linejoin="round" stroke-linecap="round"/>
<path d="M550.9 292.9L553.0 300.0L555.5 295.0L557.5 302.0L559.5 309.0L561.6 275.7L563.5 290.0L566.0 306.0L568.0 310.0L570.5 308.0L573.7 304.3L576.0 302.0L578.5 306.0L580.5 296.0L582.2 285.7L584.0 296.0L586.0 309.0L588.0 317.2L590.0 310.0L592.3 303.0L594.5 299.0L596.5 290.0L598.0 278.6L599.5 255.0L600.9 229.8L602.3 222.0L603.7 215.5L606.0 180.0L608.0 149.6L610.5 122.0L612.9 98.0L614.5 125.0L616.6 164.0L618.3 190.0L620.0 212.6L622.0 238.0L623.8 261.4L625.3 254.0L626.7 242.7L628.0 258.0L629.5 272.8L630.7 262.0L631.8 248.5L633.3 262.0L635.0 275.0L636.7 281.4L639.0 284.0L642.4 284.3L644.5 290.0L646.7 300.0L648.5 297.0L651.0 293.0L653.9 291.4L656.0 298.0L658.2 304.3L660.0 290.0L661.6 275.7L663.3 290.0L665.0 305.0L666.5 314.0L668.2 317.2L669.5 313.0L671.0 311.5L673.0 318.0L675.4 325.8L676.2 200.0L677.4 73.7L678.5 78.0L679.7 86.6L681.5 115.0L683.1 143.9L685.0 120.0L687.1 96.6L688.5 118.0L689.7 138.2L691.0 132.0L692.6 128.1L694.0 150.0L695.4 172.5L698.3 174.0L699.8 192.0L701.2 209.8L702.6 200.0L704.0 191.2L706.0 208.0L708.3 221.2L711.2 214.0L714.0 225.5L716.0 221.0L718.4 218.4L719.8 240.0L721.2 257.0L722.6 243.0L724.0 231.3L726.0 236.0L728.4 235.6L731.0 231.0L734.0 232.7L736.3 233.0L737.5 255.0L738.8 273.0L740.0 277.3L741.3 268.0L742.6 260.0L744.5 266.0L746.5 265.0L748.0 272.0L749.5 268.0L751.3 282.5L753.5 270.0L755.6 258.2L757.5 266.0L759.5 274.0L761.7 277.3L763.5 272.0L765.5 284.0L767.5 292.0L769.0 286.0L771.0 272.0L773.0 290.0L775.0 296.0L777.0 278.0L779.5 272.0L781.5 288.0L783.5 300.0L785.2 305.0L787.0 296.0L789.0 288.0L791.0 292.0L793.0 296.0L795.0 290.0L797.0 280.0L798.8 266.0L800.3 256.4L802.0 272.0L803.5 286.0L805.0 293.0L807.0 290.0L809.0 279.0L811.0 277.0L813.0 288.0L815.0 292.0L817.0 287.0L819.0 300.0L821.5 305.0L823.0 288.0L824.5 274.0L826.5 282.0L828.5 290.0L830.5 296.0L832.5 286.0L834.5 279.0L836.5 280.0L838.5 292.0L840.5 303.0L842.5 310.0L844.5 306.0L846.5 294.0L848.5 284.0L850.5 288.0L852.5 280.0L854.5 292.0L856.5 283.0L858.5 290.0L860.5 284.0L862.5 283.0L864.5 287.0L866.5 300.0L868.5 296.0L870.5 302.0L872.5 307.0L874.5 296.0L876.5 284.0L878.5 286.0L880.5 292.0L882.5 300.0L884.5 290.0L886.5 288.0L888.5 298.0L890.5 304.0L892.5 290.0L894.5 280.0L896.0 282.0L898.0 296.0L900.0 306.0L901.5 290.0L903.0 270.0L904.5 276.0L906.0 290.0L908.0 284.0L910.0 287.0L912.0 294.0L913.5 304.0L915.0 308.0L916.3 292.0L916.9 291.0" fill="none" stroke="#0000e6" stroke-width="3.6" stroke-linejoin="round" stroke-linecap="round"/>
<path d="M592.0 40.5V333" stroke="#b3131b" stroke-width="3.4" fill="none" stroke-dasharray="13.2 14.4"/>
<path d="M612.6 40.5V333" stroke="#b3131b" stroke-width="3.4" fill="none" stroke-dasharray="13.2 14.4"/>
<path d="M676.9 40.5V333" stroke="#b3131b" stroke-width="3.4" fill="none" stroke-dasharray="13.2 14.4"/>
<path d="M550.2 37.8V335.4M547.0 334.6H917.6M550.2 71.5h-3M550.2 104.4h-6M550.2 137.3h-3M550.2 170.2h-6M550.2 203.1h-3M550.2 236.0h-6M550.2 268.9h-3M550.2 301.8h-6M550.2 334.7h-3M560.3 334.6v3.5M590.9 334.6v6M621.5 334.6v3.5M652.0 334.6v6M682.6 334.6v3.5M713.2 334.6v6M743.8 334.6v3.5M774.3 334.6v6M804.9 334.6v3.5M835.5 334.6v6M866.0 334.6v3.5M896.6 334.6v6" stroke="#262626" stroke-width="1.7" fill="none"/>
<path d="M544.2 38.6H918.4M917.6 38.6V335.4M560.3 38.6v3.5M590.9 38.6v6M621.5 38.6v3.5M652.0 38.6v6M682.6 38.6v3.5M713.2 38.6v6M743.8 38.6v3.5M774.3 38.6v6M804.9 38.6v3.5M835.5 38.6v6M866.0 38.6v3.5M896.6 38.6v6M917.6 317.1h6M917.6 295.7h3M917.6 274.2h6M917.6 252.8h3M917.6 231.4h6M917.6 210.0h3M917.6 188.6h6M917.6 167.1h3M917.6 145.7h6M917.6 124.3h3M917.6 102.8h6M917.6 81.4h3M917.6 60.0h6" stroke="#2222a0" stroke-width="1.7" fill="none"/>
<path d="M544.2 38.6H551.0" stroke="#262626" stroke-width="1.7" fill="none"/>
<text x="540.5" y="44.9" text-anchor="end" font-size="18.8" fill="#000000">-0.2</text>
<text x="540.5" y="110.7" text-anchor="end" font-size="18.8" fill="#000000">-0.3</text>
<text x="540.5" y="176.5" text-anchor="end" font-size="18.8" fill="#000000">-0.4</text>
<text x="540.5" y="242.3" text-anchor="end" font-size="18.8" fill="#000000">-0.5</text>
<text x="540.5" y="308.1" text-anchor="end" font-size="18.8" fill="#000000">-0.6</text>
<text x="590.6" y="359.4" text-anchor="middle" font-size="18.0" fill="#000000">960</text>
<text x="651.7" y="359.4" text-anchor="middle" font-size="18.0" fill="#000000">990</text>
<text x="712.9" y="359.4" text-anchor="middle" font-size="18.0" fill="#000000">1020</text>
<text x="774.0" y="359.4" text-anchor="middle" font-size="18.0" fill="#000000">1050</text>
<text x="835.2" y="359.4" text-anchor="middle" font-size="18.0" fill="#000000">1080</text>
<text x="896.3" y="359.4" text-anchor="middle" font-size="18.0" fill="#000000">1110</text>
<text x="927.0" y="322.7" text-anchor="start" font-size="18.5" textLength="29.9" lengthAdjust="spacingAndGlyphs" fill="#1c1c9c">500</text>
<text x="927.0" y="279.9" text-anchor="start" font-size="18.5" textLength="39.9" lengthAdjust="spacingAndGlyphs" fill="#1c1c9c">1000</text>
<text x="927.0" y="237.0" text-anchor="start" font-size="18.5" textLength="39.9" lengthAdjust="spacingAndGlyphs" fill="#1c1c9c">1500</text>
<text x="927.0" y="194.2" text-anchor="start" font-size="18.5" textLength="39.9" lengthAdjust="spacingAndGlyphs" fill="#1c1c9c">2000</text>
<text x="927.0" y="151.3" text-anchor="start" font-size="18.5" textLength="39.9" lengthAdjust="spacingAndGlyphs" fill="#1c1c9c">2500</text>
<text x="927.0" y="108.4" text-anchor="start" font-size="18.5" textLength="39.9" lengthAdjust="spacingAndGlyphs" fill="#1c1c9c">3000</text>
<text x="927.0" y="65.6" text-anchor="start" font-size="18.5" textLength="39.9" lengthAdjust="spacingAndGlyphs" fill="#1c1c9c">3500</text>
<text transform="translate(501.3 185.6) rotate(-90)" text-anchor="middle" font-size="21.8" fill="#000">Thickness variation (nm)</text>
<text x="733.6" y="391.3" text-anchor="middle" font-size="21.6" fill="#000">Time (s)</text>
<text x="544.6" y="25.8" font-size="22.4" fill="#b3131b" font-weight="bold">C<tspan font-size="12.6" dy="8.3">4</tspan><tspan dy="-8.3">F</tspan><tspan font-size="12.6" dy="8.3" dx="1.2">8</tspan></text>
<text x="611.4" y="25.5" font-size="22.4" fill="#b3131b" font-weight="bold">Ar gas</text>
<text x="733.3" y="25.5" font-size="22.4" fill="#b3131b" font-weight="bold">Ar plasma</text>
<path d="M573.6 34.4L595 52.8" stroke="#b3131b" stroke-width="2.3" fill="none"/>
<path d="M602.4 59.2L590.6 55.0L596.8 47.7Z" fill="#b3131b"/>
</svg>
</body></html>
